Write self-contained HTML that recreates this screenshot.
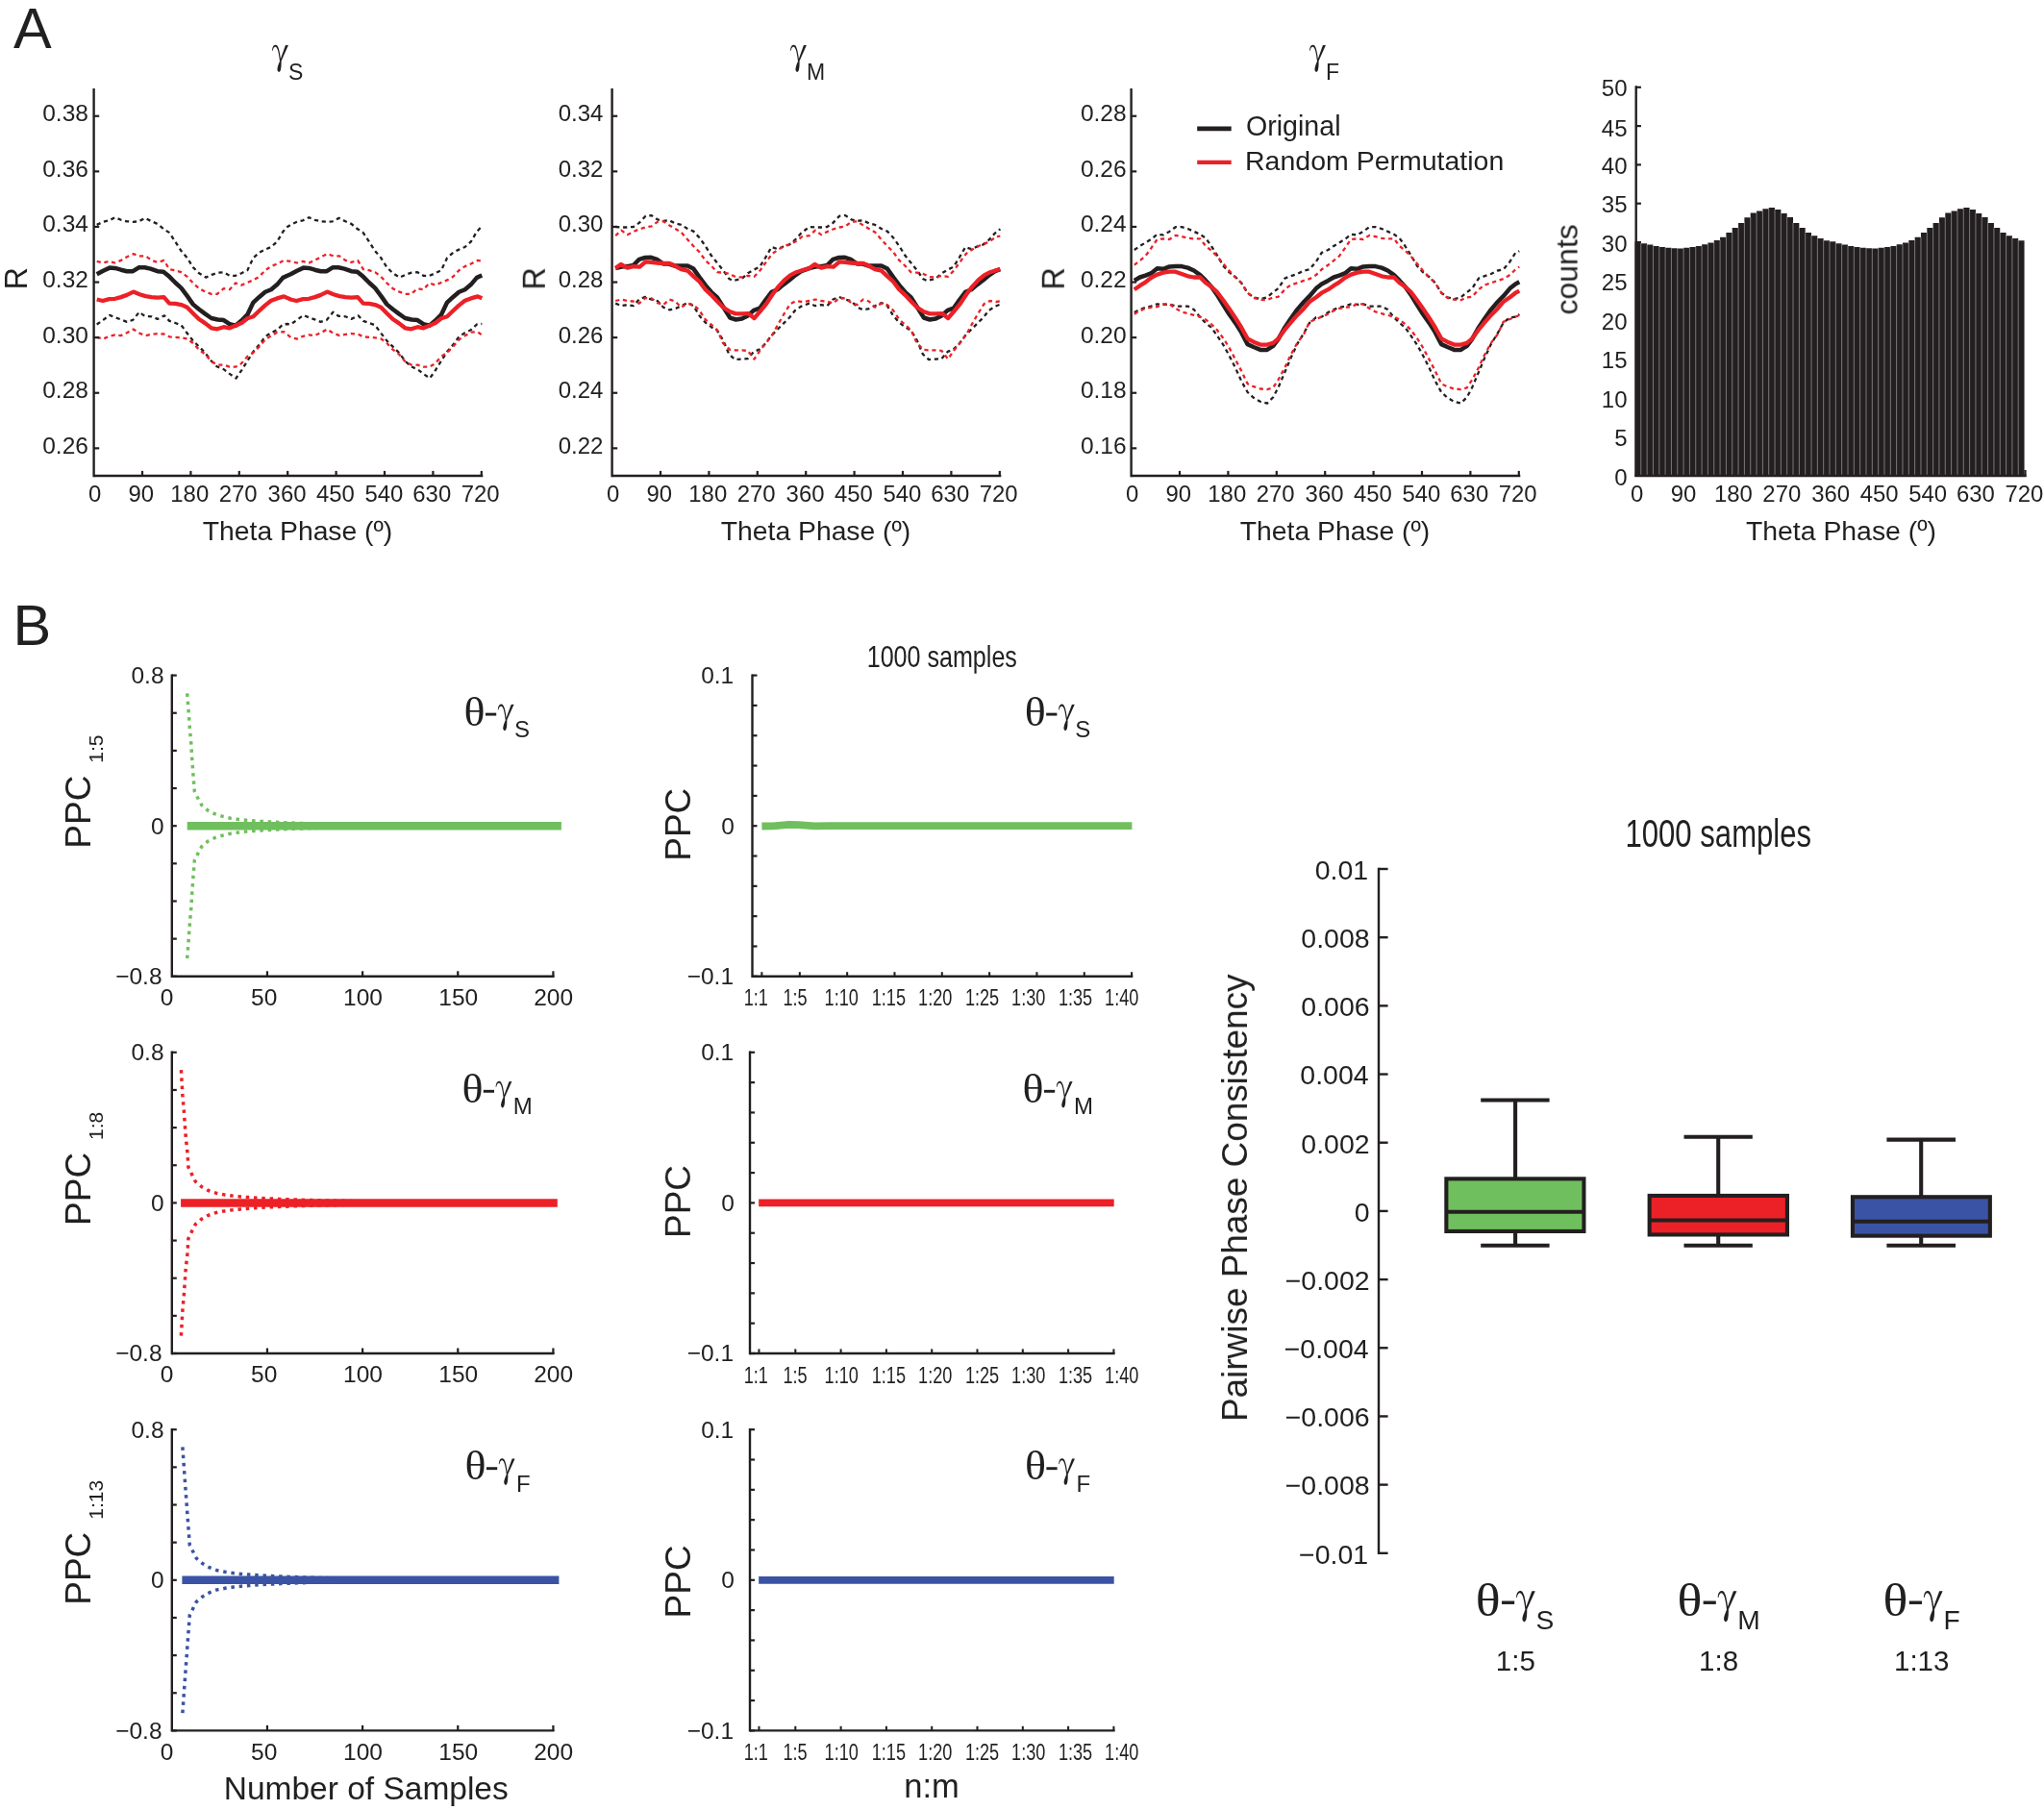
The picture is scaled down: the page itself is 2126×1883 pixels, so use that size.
<!DOCTYPE html>
<html><head><meta charset="utf-8"><title>Figure</title>
<style>
html,body{margin:0;padding:0;background:#fff;}
svg{display:block;}
text{fill:#231f20;white-space:pre;}
.ss{font-family:"Liberation Sans",sans-serif;}
.sr{font-family:"Liberation Serif",serif;}
</style></head>
<body>
<svg width="2126" height="1883" viewBox="0 0 2126 1883">
<rect width="2126" height="1883" fill="#ffffff"/>
<g stroke-linecap="butt">
<polyline points="100.7,233.9 107.3,230.8 113.5,229.3 119.7,226.2 125.8,228.8 132.0,230.3 138.2,230.8 144.3,230.3 151.0,226.9 157.7,230.3 163.8,232.9 170.0,238.0 176.2,242.1 182.3,251.4 188.5,261.1 194.7,268.3 200.8,278.1 207.0,284.2 214.2,288.6 220.3,285.8 226.5,283.7 232.7,283.2 238.8,286.8 245.0,286.8 251.2,284.2 257.3,281.2 263.5,268.3 269.7,262.7 275.8,259.6 282.0,257.0 288.2,251.4 294.3,241.1 298.9,236.0 302.3,233.9 308.9,230.8 315.1,229.3 321.3,226.2 327.4,228.8 333.6,230.3 339.8,230.8 345.9,230.3 352.6,226.9 359.3,230.3 365.4,232.9 371.6,238.0 377.8,242.1 383.9,251.4 390.1,261.1 396.3,268.3 402.4,278.1 408.6,284.2 415.8,288.6 421.9,285.8 428.1,283.7 434.3,283.2 440.4,286.8 446.6,286.8 452.8,284.2 458.9,281.2 465.1,268.3 471.3,262.7 477.4,259.6 483.6,257.0 489.8,251.4 495.9,241.1 500.5,236.0 501.3,235.5" fill="none" stroke="#231f20" stroke-width="2.3" stroke-linejoin="round" stroke-dasharray="4.2 3.7" />
<polyline points="100.7,337.5 107.3,332.9 114.0,327.9 119.7,330.3 125.8,332.4 132.0,334.9 138.2,332.9 144.8,324.7 150.5,328.8 157.7,329.3 163.8,331.9 171.0,328.3 176.2,333.9 182.3,336.0 188.5,338.2 193.6,345.2 200.8,354.5 207.0,360.6 213.2,366.8 219.8,375.5 225.5,381.2 232.7,384.2 238.8,388.9 245.5,393.5 251.2,385.3 257.3,375.5 263.5,365.8 269.7,358.6 275.8,350.3 282.0,346.2 288.2,343.2 294.3,337.5 298.9,337.0 302.3,337.5 308.9,332.9 315.6,327.9 321.3,330.3 327.4,332.4 333.6,334.9 339.8,332.9 346.4,324.7 352.1,328.8 359.3,329.3 365.4,331.9 372.6,328.3 377.8,333.9 383.9,336.0 390.1,338.2 395.2,345.2 402.4,354.5 408.6,360.6 414.8,366.8 421.4,375.5 427.1,381.2 434.3,384.2 440.4,388.9 447.1,393.5 452.8,385.3 458.9,375.5 465.1,365.8 471.3,358.6 477.4,350.3 483.6,346.2 489.8,343.2 495.9,337.5 500.5,337.0 501.3,337.1" fill="none" stroke="#231f20" stroke-width="2.3" stroke-linejoin="round" stroke-dasharray="4.2 3.7" />
<polyline points="100.7,271.9 107.3,273.5 113.5,271.9 119.7,273.5 125.8,270.9 132.0,267.3 138.7,264.2 145.3,266.3 151.5,266.3 157.7,270.9 163.8,272.9 170.5,270.9 176.2,280.1 182.3,281.2 188.5,283.2 194.7,287.8 200.8,294.5 207.0,300.2 213.2,303.3 219.8,305.8 226.0,305.8 232.7,300.2 238.8,301.2 245.0,294.5 251.2,296.6 257.3,294.0 263.5,291.4 269.7,287.8 275.8,281.2 282.0,277.1 288.2,274.5 295.3,270.9 302.3,271.9 308.9,273.5 315.1,271.9 321.3,273.5 327.4,270.9 333.6,267.3 340.3,264.2 346.9,266.3 353.1,266.3 359.3,270.9 365.4,272.9 372.1,270.9 377.8,280.1 383.9,281.2 390.1,283.2 396.3,287.8 402.4,294.5 408.6,300.2 414.8,303.3 421.4,305.8 427.6,305.8 434.3,300.2 440.4,301.2 446.6,294.5 452.8,296.6 458.9,294.0 465.1,291.4 471.3,287.8 477.4,281.2 483.6,277.1 489.8,274.5 496.9,270.9 501.3,271.5" fill="none" stroke="#ec2027" stroke-width="2.3" stroke-linejoin="round" stroke-dasharray="4.2 3.7" />
<polyline points="100.7,350.9 107.3,352.6 113.5,349.8 119.7,348.3 125.8,349.1 132.0,346.2 138.7,342.6 145.3,346.7 151.5,349.1 157.7,347.8 163.8,347.1 170.5,347.5 176.2,350.3 182.3,350.9 188.5,351.4 194.7,352.4 200.8,357.0 207.0,363.7 213.2,368.3 219.8,376.0 226.0,379.6 232.7,379.6 238.8,381.7 245.0,381.7 251.2,378.1 257.3,370.9 263.5,366.8 269.7,360.6 275.8,353.4 282.0,349.3 288.2,345.7 295.3,345.2 302.3,350.9 308.9,352.6 315.1,349.8 321.3,348.3 327.4,349.1 333.6,346.2 340.3,342.6 346.9,346.7 353.1,349.1 359.3,347.8 365.4,347.1 372.1,347.5 377.8,350.3 383.9,350.9 390.1,351.4 396.3,352.4 402.4,357.0 408.6,363.7 414.8,368.3 421.4,376.0 427.6,379.6 434.3,379.6 440.4,381.7 446.6,381.7 452.8,378.1 458.9,370.9 465.1,366.8 471.3,360.6 477.4,353.4 483.6,349.3 489.8,345.7 496.9,345.2 501.3,348.8" fill="none" stroke="#ec2027" stroke-width="2.3" stroke-linejoin="round" stroke-dasharray="4.2 3.7" />
<polyline points="100.7,285.3 107.3,281.7 114.0,278.6 119.7,278.9 125.8,280.7 132.0,282.2 138.2,282.2 144.3,278.3 150.5,278.3 156.6,279.6 163.8,282.2 170.0,282.7 176.2,287.8 182.3,294.0 188.5,299.7 194.7,307.9 200.8,316.6 207.0,321.8 213.2,326.4 219.8,331.0 226.5,332.5 232.7,333.1 238.8,337.2 245.0,338.7 251.2,333.6 257.3,327.4 263.5,314.6 269.7,308.9 275.8,303.8 282.0,301.2 288.2,296.1 294.3,288.9 298.9,286.8 302.3,285.3 308.9,281.7 315.6,278.6 321.3,278.9 327.4,280.7 333.6,282.2 339.8,282.2 345.9,278.3 352.1,278.3 358.2,279.6 365.4,282.2 371.6,282.7 377.8,287.8 383.9,294.0 390.1,299.7 396.3,307.9 402.4,316.6 408.6,321.8 414.8,326.4 421.4,331.0 428.1,332.5 434.3,333.1 440.4,337.2 446.6,338.7 452.8,333.6 458.9,327.4 465.1,314.6 471.3,308.9 477.4,303.8 483.6,301.2 489.8,296.1 495.9,288.9 500.5,286.8 501.3,286.5" fill="none" stroke="#231f20" stroke-width="4.5" stroke-linejoin="round"  />
<polyline points="100.7,311.5 106.8,313.0 113.5,311.2 119.7,310.8 125.8,309.1 132.0,306.9 138.7,303.6 145.3,306.3 151.5,308.1 157.7,309.1 163.8,309.7 170.5,309.1 176.2,315.6 182.3,315.9 188.5,317.1 194.7,319.7 200.8,325.9 207.0,332.0 213.2,336.1 219.8,341.3 226.0,342.3 232.7,340.2 238.8,341.3 245.0,338.7 251.2,336.1 257.3,331.3 263.5,329.3 269.7,323.3 275.8,317.6 282.0,312.8 288.2,310.4 295.3,308.4 302.3,311.5 308.4,313.0 315.1,311.2 321.3,310.8 327.4,309.1 333.6,306.9 340.3,303.6 346.9,306.3 353.1,308.1 359.3,309.1 365.4,309.7 372.1,309.1 377.8,315.6 383.9,315.9 390.1,317.1 396.3,319.7 402.4,325.9 408.6,332.0 414.8,336.1 421.4,341.3 427.6,342.3 434.3,340.2 440.4,341.3 446.6,338.7 452.8,336.1 458.9,331.3 465.1,329.3 471.3,323.3 477.4,317.6 483.6,312.8 489.8,310.4 496.9,308.4 501.3,310.3" fill="none" stroke="#ec2027" stroke-width="4.3" stroke-linejoin="round"  />
<line x1="97.60" y1="92.00" x2="97.60" y2="496.20" stroke="#231f20" stroke-width="2.4" />
<line x1="97.60" y1="495.00" x2="502.30" y2="495.00" stroke="#231f20" stroke-width="2.4" />
<line x1="148.00" y1="495.00" x2="148.00" y2="489.90" stroke="#231f20" stroke-width="2.208" />
<line x1="198.40" y1="495.00" x2="198.40" y2="489.90" stroke="#231f20" stroke-width="2.208" />
<line x1="248.80" y1="495.00" x2="248.80" y2="489.90" stroke="#231f20" stroke-width="2.208" />
<line x1="299.20" y1="495.00" x2="299.20" y2="489.90" stroke="#231f20" stroke-width="2.208" />
<line x1="349.60" y1="495.00" x2="349.60" y2="489.90" stroke="#231f20" stroke-width="2.208" />
<line x1="400.00" y1="495.00" x2="400.00" y2="489.90" stroke="#231f20" stroke-width="2.208" />
<line x1="450.40" y1="495.00" x2="450.40" y2="489.90" stroke="#231f20" stroke-width="2.208" />
<line x1="500.80" y1="495.00" x2="500.80" y2="489.90" stroke="#231f20" stroke-width="2.208" />
<line x1="97.60" y1="120.75" x2="103.20" y2="120.75" stroke="#231f20" stroke-width="2.208" />
<line x1="97.60" y1="178.35" x2="103.20" y2="178.35" stroke="#231f20" stroke-width="2.208" />
<line x1="97.60" y1="235.95" x2="103.20" y2="235.95" stroke="#231f20" stroke-width="2.208" />
<line x1="97.60" y1="293.55" x2="103.20" y2="293.55" stroke="#231f20" stroke-width="2.208" />
<line x1="97.60" y1="351.15" x2="103.20" y2="351.15" stroke="#231f20" stroke-width="2.208" />
<line x1="97.60" y1="408.75" x2="103.20" y2="408.75" stroke="#231f20" stroke-width="2.208" />
<line x1="97.60" y1="466.35" x2="103.20" y2="466.35" stroke="#231f20" stroke-width="2.208" />
<path d="M282.98,52.71 C283.08,52.16 283.24,50.33 283.55,49.44 C283.85,48.54 284.34,47.80 284.84,47.35 C285.33,46.89 285.90,46.66 286.50,46.70 C287.10,46.74 287.86,46.88 288.44,47.60 C289.02,48.32 289.54,49.58 289.99,51.01 C290.44,52.45 290.84,54.53 291.14,56.23 C291.45,57.94 291.73,60.41 291.84,61.25 L296.94,47.09 L299.90,46.95 L292.56,63.54 C292.56,63.84 292.61,64.41 292.59,65.37 C292.57,66.33 292.57,68.02 292.44,69.29 C292.30,70.55 292.11,72.03 291.79,72.95 C291.47,73.88 290.93,74.60 290.50,74.82 C290.07,75.03 289.55,74.65 289.21,74.25 C288.86,73.85 288.48,73.25 288.44,72.42 C288.40,71.59 288.65,70.42 288.95,69.29 C289.25,68.16 289.90,66.54 290.24,65.62 C290.59,64.71 290.88,64.09 291.01,63.79 C290.92,63.18 290.71,61.54 290.50,60.15 C290.29,58.76 290.03,56.88 289.73,55.44 C289.43,54.00 289.09,52.54 288.70,51.52 C288.31,50.50 287.84,49.78 287.40,49.32 C286.97,48.87 286.54,48.74 286.11,48.79 C285.69,48.83 285.20,49.12 284.84,49.58 C284.48,50.03 284.13,50.98 283.94,51.52 C283.74,52.07 283.71,52.63 283.66,52.85 Z" fill="#231f20"/>
<polyline points="640.2,236.0 646.3,236.5 652.5,236.5 658.7,236.0 664.8,231.9 671.5,224.7 677.7,224.1 683.8,228.3 690.0,229.8 696.2,229.3 702.3,232.4 708.5,233.9 715.2,238.0 721.3,240.6 727.5,247.3 733.7,256.0 739.8,265.8 746.0,273.5 752.2,281.2 758.3,289.9 762.4,292.0 771.7,289.9 777.8,284.2 784.0,280.7 790.2,277.6 796.3,267.8 802.5,257.0 808.7,259.1 814.8,256.5 821.0,254.5 827.2,249.3 833.3,242.6 838.5,238.5 841.8,236.0 847.9,236.5 854.1,236.5 860.3,236.0 866.4,231.9 873.1,224.7 879.3,224.1 885.4,228.3 891.6,229.8 897.8,229.3 903.9,232.4 910.1,233.9 916.8,238.0 922.9,240.6 929.1,247.3 935.3,256.0 941.4,265.8 947.6,273.5 953.8,281.2 959.9,289.9 964.0,292.0 973.3,289.9 979.4,284.2 985.6,280.7 991.8,277.6 997.9,267.8 1004.1,257.0 1010.3,259.1 1016.4,256.5 1022.6,254.5 1028.8,249.3 1034.9,242.6 1040.1,238.5 1040.3,238.3" fill="none" stroke="#231f20" stroke-width="2.3" stroke-linejoin="round" stroke-dasharray="4.2 3.7" />
<polyline points="640.2,315.6 646.3,318.2 652.5,317.1 658.7,318.2 664.8,311.5 671.0,308.9 677.2,311.5 683.8,313.0 690.0,319.7 696.2,322.3 702.3,321.2 708.5,318.2 715.2,315.1 721.3,318.2 727.5,328.4 733.7,335.6 739.8,340.2 746.0,343.8 752.2,354.1 758.3,368.5 764.5,374.1 771.7,373.6 777.8,373.1 784.0,365.9 790.2,363.4 796.3,357.2 802.5,349.0 808.7,342.8 814.8,336.6 821.0,330.5 827.2,322.8 833.3,318.7 841.8,315.6 847.9,318.2 854.1,317.1 860.3,318.2 866.4,311.5 872.6,308.9 878.8,311.5 885.4,313.0 891.6,319.7 897.8,322.3 903.9,321.2 910.1,318.2 916.8,315.1 922.9,318.2 929.1,328.4 935.3,335.6 941.4,340.2 947.6,343.8 953.8,354.1 959.9,368.5 966.1,374.1 973.3,373.6 979.4,373.1 985.6,365.9 991.8,363.4 997.9,357.2 1004.1,349.0 1010.3,342.8 1016.4,336.6 1022.6,330.5 1028.8,322.8 1034.9,318.7 1040.3,316.7" fill="none" stroke="#231f20" stroke-width="2.3" stroke-linejoin="round" stroke-dasharray="4.2 3.7" />
<polyline points="640.2,245.2 646.3,239.6 652.5,244.2 658.7,241.1 664.8,238.5 671.5,236.5 677.7,235.4 683.8,230.8 690.0,230.3 696.2,234.4 702.3,238.0 708.5,241.6 715.2,249.3 721.3,256.0 727.5,262.2 733.7,270.9 739.8,276.5 746.0,283.2 752.2,283.7 758.3,284.8 765.5,288.2 771.7,288.4 777.8,286.8 784.5,287.8 790.7,281.2 797.4,271.9 803.5,263.7 809.7,259.6 815.9,256.0 822.0,253.9 828.2,250.9 834.3,246.2 841.8,245.2 847.9,239.6 854.1,244.2 860.3,241.1 866.4,238.5 873.1,236.5 879.3,235.4 885.4,230.8 891.6,230.3 897.8,234.4 903.9,238.0 910.1,241.6 916.8,249.3 922.9,256.0 929.1,262.2 935.3,270.9 941.4,276.5 947.6,283.2 953.8,283.7 959.9,284.8 967.1,288.2 973.3,288.4 979.4,286.8 986.1,287.8 992.3,281.2 999.0,271.9 1005.1,263.7 1011.3,259.6 1017.5,256.0 1023.6,253.9 1029.8,250.9 1035.9,246.2 1040.3,245.6" fill="none" stroke="#ec2027" stroke-width="2.3" stroke-linejoin="round" stroke-dasharray="4.2 3.7" />
<polyline points="640.2,313.0 646.3,311.5 652.5,313.0 658.7,313.5 664.8,315.6 671.5,309.9 677.7,310.4 683.8,315.1 690.0,317.1 696.2,311.5 702.3,313.5 708.5,319.7 715.2,315.6 721.3,317.1 727.5,322.8 733.7,332.5 739.8,337.7 746.0,343.3 752.2,357.2 759.3,363.9 765.5,364.4 771.7,364.4 777.8,364.9 784.5,373.6 790.7,364.4 797.4,356.2 803.5,348.0 809.7,336.6 815.9,325.9 822.0,316.1 828.2,313.0 834.3,314.0 841.8,313.0 847.9,311.5 854.1,313.0 860.3,313.5 866.4,315.6 873.1,309.9 879.3,310.4 885.4,315.1 891.6,317.1 897.8,311.5 903.9,313.5 910.1,319.7 916.8,315.6 922.9,317.1 929.1,322.8 935.3,332.5 941.4,337.7 947.6,343.3 953.8,357.2 960.9,363.9 967.1,364.4 973.3,364.4 979.4,364.9 986.1,373.6 992.3,364.4 999.0,356.2 1005.1,348.0 1011.3,336.6 1017.5,325.9 1023.6,316.1 1029.8,313.0 1035.9,314.0 1040.3,313.4" fill="none" stroke="#ec2027" stroke-width="2.3" stroke-linejoin="round" stroke-dasharray="4.2 3.7" />
<polyline points="640.2,279.1 646.3,277.6 652.5,277.1 658.7,276.0 664.8,269.9 671.0,268.0 677.2,267.8 683.3,269.9 690.0,274.5 695.6,274.5 701.8,276.5 708.0,276.5 715.2,276.5 721.3,279.6 727.5,288.4 733.7,296.6 739.8,303.8 746.0,309.4 752.2,319.2 759.3,330.5 765.5,332.5 771.7,331.5 777.8,328.4 784.0,322.8 790.2,320.7 796.3,312.0 802.5,303.8 808.7,301.2 814.8,296.1 821.0,291.4 827.2,286.3 833.3,282.2 841.8,279.1 847.9,277.6 854.1,277.1 860.3,276.0 866.4,269.9 872.6,268.0 878.8,267.8 884.9,269.9 891.6,274.5 897.2,274.5 903.4,276.5 909.6,276.5 916.8,276.5 922.9,279.6 929.1,288.4 935.3,296.6 941.4,303.8 947.6,309.4 953.8,319.2 960.9,330.5 967.1,332.5 973.3,331.5 979.4,328.4 985.6,322.8 991.8,320.7 997.9,312.0 1004.1,303.8 1010.3,301.2 1016.4,296.1 1022.6,291.4 1028.8,286.3 1034.9,282.2 1040.3,280.2" fill="none" stroke="#231f20" stroke-width="4.5" stroke-linejoin="round"  />
<polyline points="640.2,279.1 645.8,275.0 652.5,278.6 658.7,277.1 665.3,277.6 671.5,272.4 677.7,272.9 683.3,273.5 690.0,274.0 696.2,274.0 701.8,276.5 708.5,280.1 715.2,281.7 721.3,287.3 727.5,293.0 733.7,301.2 739.8,306.9 746.0,313.5 752.2,319.7 759.3,324.3 765.5,326.4 771.7,326.4 778.4,326.2 784.5,331.0 790.7,323.8 797.4,315.6 803.5,306.3 809.7,298.1 815.9,291.4 822.0,286.3 828.2,283.2 834.3,281.2 841.8,279.1 847.4,275.0 854.1,278.6 860.3,277.1 866.9,277.6 873.1,272.4 879.3,272.9 884.9,273.5 891.6,274.0 897.8,274.0 903.4,276.5 910.1,280.1 916.8,281.7 922.9,287.3 929.1,293.0 935.3,301.2 941.4,306.9 947.6,313.5 953.8,319.7 960.9,324.3 967.1,326.4 973.3,326.4 980.0,326.2 986.1,331.0 992.3,323.8 999.0,315.6 1005.1,306.3 1011.3,298.1 1017.5,291.4 1023.6,286.3 1029.8,283.2 1035.9,281.2 1040.3,280.0" fill="none" stroke="#ec2027" stroke-width="4.3" stroke-linejoin="round"  />
<line x1="636.60" y1="92.00" x2="636.60" y2="496.20" stroke="#231f20" stroke-width="2.4" />
<line x1="636.60" y1="495.00" x2="1041.30" y2="495.00" stroke="#231f20" stroke-width="2.4" />
<line x1="687.00" y1="495.00" x2="687.00" y2="489.90" stroke="#231f20" stroke-width="2.208" />
<line x1="737.40" y1="495.00" x2="737.40" y2="489.90" stroke="#231f20" stroke-width="2.208" />
<line x1="787.80" y1="495.00" x2="787.80" y2="489.90" stroke="#231f20" stroke-width="2.208" />
<line x1="838.20" y1="495.00" x2="838.20" y2="489.90" stroke="#231f20" stroke-width="2.208" />
<line x1="888.60" y1="495.00" x2="888.60" y2="489.90" stroke="#231f20" stroke-width="2.208" />
<line x1="939.00" y1="495.00" x2="939.00" y2="489.90" stroke="#231f20" stroke-width="2.208" />
<line x1="989.40" y1="495.00" x2="989.40" y2="489.90" stroke="#231f20" stroke-width="2.208" />
<line x1="1039.80" y1="495.00" x2="1039.80" y2="489.90" stroke="#231f20" stroke-width="2.208" />
<line x1="636.60" y1="120.75" x2="642.20" y2="120.75" stroke="#231f20" stroke-width="2.208" />
<line x1="636.60" y1="178.35" x2="642.20" y2="178.35" stroke="#231f20" stroke-width="2.208" />
<line x1="636.60" y1="235.95" x2="642.20" y2="235.95" stroke="#231f20" stroke-width="2.208" />
<line x1="636.60" y1="293.55" x2="642.20" y2="293.55" stroke="#231f20" stroke-width="2.208" />
<line x1="636.60" y1="351.15" x2="642.20" y2="351.15" stroke="#231f20" stroke-width="2.208" />
<line x1="636.60" y1="408.75" x2="642.20" y2="408.75" stroke="#231f20" stroke-width="2.208" />
<line x1="636.60" y1="466.35" x2="642.20" y2="466.35" stroke="#231f20" stroke-width="2.208" />
<path d="M821.99,52.71 C822.08,52.16 822.24,50.33 822.55,49.44 C822.85,48.54 823.35,47.80 823.84,47.35 C824.33,46.89 824.90,46.66 825.50,46.70 C826.10,46.74 826.86,46.88 827.44,47.60 C828.02,48.32 828.54,49.58 828.99,51.01 C829.44,52.45 829.84,54.53 830.15,56.23 C830.45,57.94 830.73,60.41 830.84,61.25 L835.94,47.09 L838.90,46.95 L831.56,63.54 C831.56,63.84 831.61,64.41 831.59,65.37 C831.57,66.33 831.57,68.02 831.44,69.29 C831.30,70.55 831.11,72.03 830.79,72.95 C830.47,73.88 829.93,74.60 829.50,74.82 C829.07,75.03 828.55,74.65 828.21,74.25 C827.86,73.85 827.48,73.25 827.44,72.42 C827.40,71.59 827.65,70.42 827.95,69.29 C828.25,68.16 828.90,66.54 829.24,65.62 C829.59,64.71 829.88,64.09 830.01,63.79 C829.92,63.18 829.71,61.54 829.50,60.15 C829.29,58.76 829.03,56.88 828.73,55.44 C828.43,54.00 828.09,52.54 827.70,51.52 C827.31,50.50 826.84,49.78 826.41,49.32 C825.97,48.87 825.54,48.74 825.11,48.79 C824.69,48.83 824.20,49.12 823.84,49.58 C823.48,50.03 823.13,50.98 822.94,51.52 C822.74,52.07 822.71,52.63 822.67,52.85 Z" fill="#231f20"/>
<polyline points="1179.8,260.0 1185.6,256.0 1191.4,252.5 1197.2,249.0 1203.6,243.8 1210.0,244.4 1216.3,240.9 1222.7,236.2 1229.1,236.2 1235.5,238.0 1241.9,240.9 1248.3,243.8 1254.1,247.8 1259.9,256.0 1265.7,265.2 1272.6,276.9 1278.4,283.2 1285.4,288.5 1291.2,294.3 1297.6,304.7 1303.9,309.3 1310.9,311.1 1317.9,309.3 1324.2,304.1 1329.5,300.1 1336.4,289.6 1342.2,287.3 1349.2,285.0 1356.2,281.5 1362.0,280.3 1368.9,272.2 1374.7,262.9 1381.4,260.0 1387.2,256.0 1393.0,252.5 1398.8,249.0 1405.2,243.8 1411.6,244.4 1417.9,240.9 1424.3,236.2 1430.7,236.2 1437.1,238.0 1443.5,240.9 1449.9,243.8 1455.7,247.8 1461.5,256.0 1467.3,265.2 1474.2,276.9 1480.0,283.2 1487.0,288.5 1492.8,294.3 1499.2,304.7 1505.5,309.3 1512.5,311.1 1519.5,309.3 1525.8,304.1 1531.1,300.1 1538.0,289.6 1543.8,287.3 1550.8,285.0 1557.8,281.5 1563.6,280.3 1570.5,272.2 1576.3,262.9 1580.3,261.2" fill="none" stroke="#231f20" stroke-width="2.3" stroke-linejoin="round" stroke-dasharray="4.2 3.7" />
<polyline points="1179.8,325.0 1185.6,322.1 1191.4,319.8 1197.2,318.6 1203.6,316.3 1210.0,316.9 1216.3,316.3 1222.7,318.6 1229.1,318.6 1235.5,318.6 1241.9,322.1 1248.3,330.2 1254.1,336.0 1259.9,340.7 1265.7,348.8 1272.6,359.2 1278.4,369.7 1285.4,383.6 1291.2,396.4 1297.6,408.0 1303.9,413.8 1310.9,417.8 1317.9,419.6 1324.2,413.2 1329.5,403.3 1336.4,387.1 1342.2,373.2 1349.2,358.1 1356.2,346.5 1362.0,336.0 1368.9,330.2 1374.7,329.6 1381.4,325.0 1387.2,322.1 1393.0,319.8 1398.8,318.6 1405.2,316.3 1411.6,316.9 1417.9,316.3 1424.3,318.6 1430.7,318.6 1437.1,318.6 1443.5,322.1 1449.9,330.2 1455.7,336.0 1461.5,340.7 1467.3,348.8 1474.2,359.2 1480.0,369.7 1487.0,383.6 1492.8,396.4 1499.2,408.0 1505.5,413.8 1512.5,417.8 1519.5,419.6 1525.8,413.2 1531.1,403.3 1538.0,387.1 1543.8,373.2 1550.8,358.1 1557.8,346.5 1563.6,336.0 1570.5,330.2 1576.3,329.6 1580.3,326.9" fill="none" stroke="#231f20" stroke-width="2.3" stroke-linejoin="round" stroke-dasharray="4.2 3.7" />
<polyline points="1179.8,275.7 1185.6,271.1 1191.4,266.4 1197.2,258.3 1203.6,249.0 1210.0,248.4 1216.3,249.0 1222.7,244.9 1229.1,246.1 1235.5,247.8 1241.9,248.4 1248.3,248.4 1254.1,256.0 1259.9,260.6 1265.7,266.4 1272.6,274.5 1278.4,281.5 1285.4,289.0 1291.2,294.3 1297.6,304.7 1303.9,309.9 1310.9,311.7 1317.9,312.2 1324.2,309.3 1329.5,308.8 1336.4,301.2 1342.2,296.6 1349.2,294.3 1356.2,291.9 1362.0,290.2 1368.9,286.1 1374.7,280.3 1381.4,275.7 1387.2,271.1 1393.0,266.4 1398.8,258.3 1405.2,249.0 1411.6,248.4 1417.9,249.0 1424.3,244.9 1430.7,246.1 1437.1,247.8 1443.5,248.4 1449.9,248.4 1455.7,256.0 1461.5,260.6 1467.3,266.4 1474.2,274.5 1480.0,281.5 1487.0,289.0 1492.8,294.3 1499.2,304.7 1505.5,309.9 1512.5,311.7 1519.5,312.2 1525.8,309.3 1531.1,308.8 1538.0,301.2 1543.8,296.6 1550.8,294.3 1557.8,291.9 1563.6,290.2 1570.5,286.1 1576.3,280.3 1580.3,277.6" fill="none" stroke="#ec2027" stroke-width="2.3" stroke-linejoin="round" stroke-dasharray="4.2 3.7" />
<polyline points="1179.8,326.7 1185.6,323.3 1191.4,320.9 1197.2,319.8 1203.6,319.2 1210.0,316.3 1216.3,316.3 1222.7,320.9 1229.1,324.4 1235.5,326.2 1241.9,327.9 1248.3,329.6 1254.1,332.5 1259.9,337.2 1265.7,343.0 1272.6,352.3 1278.4,361.5 1285.4,374.9 1291.2,385.9 1297.6,399.3 1303.9,402.2 1310.9,404.5 1317.9,405.1 1324.2,403.3 1329.5,395.2 1336.4,382.4 1342.2,369.7 1349.2,356.9 1356.2,347.6 1362.0,334.9 1368.9,332.0 1374.7,329.6 1381.4,326.7 1387.2,323.3 1393.0,320.9 1398.8,319.8 1405.2,319.2 1411.6,316.3 1417.9,316.3 1424.3,320.9 1430.7,324.4 1437.1,326.2 1443.5,327.9 1449.9,329.6 1455.7,332.5 1461.5,337.2 1467.3,343.0 1474.2,352.3 1480.0,361.5 1487.0,374.9 1492.8,385.9 1499.2,399.3 1505.5,402.2 1512.5,404.5 1519.5,405.1 1525.8,403.3 1531.1,395.2 1538.0,382.4 1543.8,369.7 1550.8,356.9 1557.8,347.6 1563.6,334.9 1570.5,332.0 1576.3,329.6 1580.3,327.9" fill="none" stroke="#ec2027" stroke-width="2.3" stroke-linejoin="round" stroke-dasharray="4.2 3.7" />
<polyline points="1179.8,291.9 1185.6,288.5 1191.4,286.7 1197.2,284.4 1203.6,279.2 1210.0,279.8 1216.3,277.4 1222.7,277.1 1229.1,277.1 1235.5,278.6 1241.9,281.5 1248.3,286.1 1254.1,291.9 1259.9,298.3 1265.7,306.4 1272.6,317.5 1278.4,326.7 1285.4,336.6 1291.2,345.9 1297.6,358.1 1303.9,361.0 1310.9,363.9 1317.9,363.9 1324.2,359.8 1329.5,352.8 1336.4,340.7 1342.2,332.0 1349.2,322.1 1356.2,314.0 1362.0,308.2 1368.9,300.1 1374.7,295.4 1381.4,291.9 1387.2,288.5 1393.0,286.7 1398.8,284.4 1405.2,279.2 1411.6,279.8 1417.9,277.4 1424.3,277.1 1430.7,277.1 1437.1,278.6 1443.5,281.5 1449.9,286.1 1455.7,291.9 1461.5,298.3 1467.3,306.4 1474.2,317.5 1480.0,326.7 1487.0,336.6 1492.8,345.9 1499.2,358.1 1505.5,361.0 1512.5,363.9 1519.5,363.9 1525.8,359.8 1531.1,352.8 1538.0,340.7 1543.8,332.0 1550.8,322.1 1557.8,314.0 1563.6,308.2 1570.5,300.1 1576.3,295.4 1580.3,293.3" fill="none" stroke="#231f20" stroke-width="4.5" stroke-linejoin="round"  />
<polyline points="1179.8,301.2 1185.6,297.2 1191.4,293.7 1197.2,289.0 1203.6,285.6 1210.0,283.6 1216.3,282.7 1222.7,282.7 1229.1,285.0 1235.5,287.3 1241.9,288.5 1248.3,288.5 1254.1,294.3 1259.9,298.3 1265.7,303.5 1272.6,312.8 1278.4,320.9 1285.4,331.4 1291.2,340.7 1297.6,352.3 1303.9,355.7 1310.9,358.6 1317.9,358.6 1324.2,356.9 1329.5,352.3 1336.4,343.0 1342.2,336.0 1349.2,327.9 1356.2,320.9 1362.0,314.0 1368.9,309.3 1374.7,304.7 1381.4,301.2 1387.2,297.2 1393.0,293.7 1398.8,289.0 1405.2,285.6 1411.6,283.6 1417.9,282.7 1424.3,282.7 1430.7,285.0 1437.1,287.3 1443.5,288.5 1449.9,288.5 1455.7,294.3 1461.5,298.3 1467.3,303.5 1474.2,312.8 1480.0,320.9 1487.0,331.4 1492.8,340.7 1499.2,352.3 1505.5,355.7 1512.5,358.6 1519.5,358.6 1525.8,356.9 1531.1,352.3 1538.0,343.0 1543.8,336.0 1550.8,327.9 1557.8,320.9 1563.6,314.0 1570.5,309.3 1576.3,304.7 1580.3,302.6" fill="none" stroke="#ec2027" stroke-width="4.3" stroke-linejoin="round"  />
<line x1="1176.60" y1="92.00" x2="1176.60" y2="496.20" stroke="#231f20" stroke-width="2.4" />
<line x1="1176.60" y1="495.00" x2="1581.30" y2="495.00" stroke="#231f20" stroke-width="2.4" />
<line x1="1227.00" y1="495.00" x2="1227.00" y2="489.90" stroke="#231f20" stroke-width="2.208" />
<line x1="1277.40" y1="495.00" x2="1277.40" y2="489.90" stroke="#231f20" stroke-width="2.208" />
<line x1="1327.80" y1="495.00" x2="1327.80" y2="489.90" stroke="#231f20" stroke-width="2.208" />
<line x1="1378.20" y1="495.00" x2="1378.20" y2="489.90" stroke="#231f20" stroke-width="2.208" />
<line x1="1428.60" y1="495.00" x2="1428.60" y2="489.90" stroke="#231f20" stroke-width="2.208" />
<line x1="1479.00" y1="495.00" x2="1479.00" y2="489.90" stroke="#231f20" stroke-width="2.208" />
<line x1="1529.40" y1="495.00" x2="1529.40" y2="489.90" stroke="#231f20" stroke-width="2.208" />
<line x1="1579.80" y1="495.00" x2="1579.80" y2="489.90" stroke="#231f20" stroke-width="2.208" />
<line x1="1176.60" y1="120.75" x2="1182.20" y2="120.75" stroke="#231f20" stroke-width="2.208" />
<line x1="1176.60" y1="178.35" x2="1182.20" y2="178.35" stroke="#231f20" stroke-width="2.208" />
<line x1="1176.60" y1="235.95" x2="1182.20" y2="235.95" stroke="#231f20" stroke-width="2.208" />
<line x1="1176.60" y1="293.55" x2="1182.20" y2="293.55" stroke="#231f20" stroke-width="2.208" />
<line x1="1176.60" y1="351.15" x2="1182.20" y2="351.15" stroke="#231f20" stroke-width="2.208" />
<line x1="1176.60" y1="408.75" x2="1182.20" y2="408.75" stroke="#231f20" stroke-width="2.208" />
<line x1="1176.60" y1="466.35" x2="1182.20" y2="466.35" stroke="#231f20" stroke-width="2.208" />
<path d="M1361.98,52.71 C1362.08,52.16 1362.24,50.33 1362.55,49.44 C1362.85,48.54 1363.35,47.80 1363.84,47.35 C1364.33,46.89 1364.90,46.66 1365.50,46.70 C1366.10,46.74 1366.86,46.88 1367.44,47.60 C1368.02,48.32 1368.54,49.58 1368.99,51.01 C1369.44,52.45 1369.84,54.53 1370.14,56.23 C1370.45,57.94 1370.73,60.41 1370.84,61.25 L1375.94,47.09 L1378.90,46.95 L1371.56,63.54 C1371.56,63.84 1371.61,64.41 1371.59,65.37 C1371.57,66.33 1371.57,68.02 1371.44,69.29 C1371.30,70.55 1371.11,72.03 1370.79,72.95 C1370.47,73.88 1369.93,74.60 1369.50,74.82 C1369.07,75.03 1368.55,74.65 1368.21,74.25 C1367.86,73.85 1367.48,73.25 1367.44,72.42 C1367.40,71.59 1367.65,70.42 1367.95,69.29 C1368.25,68.16 1368.90,66.54 1369.24,65.62 C1369.59,64.71 1369.88,64.09 1370.01,63.79 C1369.92,63.18 1369.71,61.54 1369.50,60.15 C1369.29,58.76 1369.03,56.88 1368.73,55.44 C1368.43,54.00 1368.09,52.54 1367.70,51.52 C1367.31,50.50 1366.84,49.78 1366.40,49.32 C1365.97,48.87 1365.54,48.74 1365.11,48.79 C1364.69,48.83 1364.20,49.12 1363.84,49.58 C1363.48,50.03 1363.13,50.98 1362.94,51.52 C1362.74,52.07 1362.71,52.63 1362.66,52.85 Z" fill="#231f20"/>
<line x1="1245.20" y1="133.90" x2="1280.70" y2="133.90" stroke="#231f20" stroke-width="4.6" />
<line x1="1245.20" y1="168.90" x2="1280.70" y2="168.90" stroke="#ec2027" stroke-width="4.4" />
<line x1="1701.70" y1="89.30" x2="1701.70" y2="496.10" stroke="#231f20" stroke-width="2.4" />
<line x1="1701.70" y1="90.80" x2="1706.90" y2="90.80" stroke="#231f20" stroke-width="2.208" />
<line x1="1701.70" y1="131.10" x2="1706.90" y2="131.10" stroke="#231f20" stroke-width="2.208" />
<line x1="1701.70" y1="171.40" x2="1706.90" y2="171.40" stroke="#231f20" stroke-width="2.208" />
<line x1="1701.70" y1="211.70" x2="1706.90" y2="211.70" stroke="#231f20" stroke-width="2.208" />
<line x1="1701.70" y1="252.00" x2="1706.90" y2="252.00" stroke="#231f20" stroke-width="2.208" />
<line x1="1701.70" y1="292.30" x2="1706.90" y2="292.30" stroke="#231f20" stroke-width="2.208" />
<line x1="1701.70" y1="332.60" x2="1706.90" y2="332.60" stroke="#231f20" stroke-width="2.208" />
<line x1="1701.70" y1="372.90" x2="1706.90" y2="372.90" stroke="#231f20" stroke-width="2.208" />
<line x1="1701.70" y1="413.20" x2="1706.90" y2="413.20" stroke="#231f20" stroke-width="2.208" />
<line x1="1701.70" y1="453.50" x2="1706.90" y2="453.50" stroke="#231f20" stroke-width="2.208" />
<line x1="1701.70" y1="493.80" x2="1706.90" y2="493.80" stroke="#231f20" stroke-width="2.208" />
<path d="M1700.45,496.1 L1700.45,251.3 L1706.78,251.3 L1706.78,253.2 L1713.11,253.2 L1713.11,254.5 L1719.44,254.5 L1719.44,255.9 L1725.77,255.9 L1725.77,256.9 L1732.10,256.9 L1732.10,257.7 L1738.43,257.7 L1738.43,258.2 L1744.76,258.2 L1744.76,258.5 L1751.09,258.5 L1751.09,257.7 L1757.42,257.7 L1757.42,257.0 L1763.75,257.0 L1763.75,256.1 L1770.08,256.1 L1770.08,254.3 L1776.41,254.3 L1776.41,252.4 L1782.74,252.4 L1782.74,250.0 L1789.07,250.0 L1789.07,246.8 L1795.40,246.8 L1795.40,242.1 L1801.73,242.1 L1801.73,237.1 L1808.06,237.1 L1808.06,231.9 L1814.39,231.9 L1814.39,226.3 L1820.72,226.3 L1820.72,221.4 L1827.05,221.4 L1827.05,219.5 L1833.38,219.5 L1833.38,217.2 L1839.71,217.2 L1839.71,216.1 L1846.04,216.1 L1846.04,218.1 L1852.37,218.1 L1852.37,222.0 L1858.70,222.0 L1858.70,226.0 L1865.03,226.0 L1865.03,232.1 L1871.36,232.1 L1871.36,237.1 L1877.69,237.1 L1877.69,242.1 L1884.02,242.1 L1884.02,245.2 L1890.35,245.2 L1890.35,248.1 L1896.68,248.1 L1896.68,250.2 L1903.01,250.2 L1903.01,251.3 L1909.34,251.3 L1909.34,253.2 L1915.67,253.2 L1915.67,254.5 L1922.00,254.5 L1922.00,255.9 L1928.33,255.9 L1928.33,256.9 L1934.66,256.9 L1934.66,257.7 L1940.99,257.7 L1940.99,258.2 L1947.32,258.2 L1947.32,258.5 L1953.65,258.5 L1953.65,257.7 L1959.98,257.7 L1959.98,257.0 L1966.31,257.0 L1966.31,256.1 L1972.64,256.1 L1972.64,254.3 L1978.97,254.3 L1978.97,252.4 L1985.30,252.4 L1985.30,250.0 L1991.63,250.0 L1991.63,246.8 L1997.96,246.8 L1997.96,242.1 L2004.29,242.1 L2004.29,237.1 L2010.62,237.1 L2010.62,231.9 L2016.95,231.9 L2016.95,226.3 L2023.28,226.3 L2023.28,221.4 L2029.61,221.4 L2029.61,219.5 L2035.94,219.5 L2035.94,217.2 L2042.27,217.2 L2042.27,216.1 L2048.60,216.1 L2048.60,218.1 L2054.93,218.1 L2054.93,222.0 L2061.26,222.0 L2061.26,226.0 L2067.59,226.0 L2067.59,232.1 L2073.92,232.1 L2073.92,237.1 L2080.25,237.1 L2080.25,242.1 L2086.58,242.1 L2086.58,245.2 L2092.91,245.2 L2092.91,248.1 L2099.24,248.1 L2099.24,250.2 L2105.57,250.2 L2105.57,496.1 Z" fill="#231f20"/>
<line x1="1706.78" y1="252.8" x2="1706.78" y2="494.5" stroke="#ffffff" stroke-opacity="0.5" stroke-width="0.8"/>
<line x1="1713.11" y1="254.1" x2="1713.11" y2="494.5" stroke="#ffffff" stroke-opacity="0.5" stroke-width="0.8"/>
<line x1="1719.44" y1="255.5" x2="1719.44" y2="494.5" stroke="#ffffff" stroke-opacity="0.5" stroke-width="0.8"/>
<line x1="1725.77" y1="256.5" x2="1725.77" y2="494.5" stroke="#ffffff" stroke-opacity="0.5" stroke-width="0.8"/>
<line x1="1732.10" y1="257.3" x2="1732.10" y2="494.5" stroke="#ffffff" stroke-opacity="0.5" stroke-width="0.8"/>
<line x1="1738.43" y1="257.8" x2="1738.43" y2="494.5" stroke="#ffffff" stroke-opacity="0.5" stroke-width="0.8"/>
<line x1="1744.76" y1="258.1" x2="1744.76" y2="494.5" stroke="#ffffff" stroke-opacity="0.5" stroke-width="0.8"/>
<line x1="1751.09" y1="258.1" x2="1751.09" y2="494.5" stroke="#ffffff" stroke-opacity="0.5" stroke-width="0.8"/>
<line x1="1757.42" y1="257.3" x2="1757.42" y2="494.5" stroke="#ffffff" stroke-opacity="0.5" stroke-width="0.8"/>
<line x1="1763.75" y1="256.6" x2="1763.75" y2="494.5" stroke="#ffffff" stroke-opacity="0.5" stroke-width="0.8"/>
<line x1="1770.08" y1="255.7" x2="1770.08" y2="494.5" stroke="#ffffff" stroke-opacity="0.5" stroke-width="0.8"/>
<line x1="1776.41" y1="253.9" x2="1776.41" y2="494.5" stroke="#ffffff" stroke-opacity="0.5" stroke-width="0.8"/>
<line x1="1782.74" y1="252.0" x2="1782.74" y2="494.5" stroke="#ffffff" stroke-opacity="0.5" stroke-width="0.8"/>
<line x1="1789.07" y1="249.6" x2="1789.07" y2="494.5" stroke="#ffffff" stroke-opacity="0.5" stroke-width="0.8"/>
<line x1="1795.40" y1="246.4" x2="1795.40" y2="494.5" stroke="#ffffff" stroke-opacity="0.5" stroke-width="0.8"/>
<line x1="1801.73" y1="241.7" x2="1801.73" y2="494.5" stroke="#ffffff" stroke-opacity="0.5" stroke-width="0.8"/>
<line x1="1808.06" y1="236.7" x2="1808.06" y2="494.5" stroke="#ffffff" stroke-opacity="0.5" stroke-width="0.8"/>
<line x1="1814.39" y1="231.5" x2="1814.39" y2="494.5" stroke="#ffffff" stroke-opacity="0.5" stroke-width="0.8"/>
<line x1="1820.72" y1="225.9" x2="1820.72" y2="494.5" stroke="#ffffff" stroke-opacity="0.5" stroke-width="0.8"/>
<line x1="1827.05" y1="221.0" x2="1827.05" y2="494.5" stroke="#ffffff" stroke-opacity="0.5" stroke-width="0.8"/>
<line x1="1833.38" y1="219.1" x2="1833.38" y2="494.5" stroke="#ffffff" stroke-opacity="0.5" stroke-width="0.8"/>
<line x1="1839.71" y1="216.8" x2="1839.71" y2="494.5" stroke="#ffffff" stroke-opacity="0.5" stroke-width="0.8"/>
<line x1="1846.04" y1="217.7" x2="1846.04" y2="494.5" stroke="#ffffff" stroke-opacity="0.5" stroke-width="0.8"/>
<line x1="1852.37" y1="221.6" x2="1852.37" y2="494.5" stroke="#ffffff" stroke-opacity="0.5" stroke-width="0.8"/>
<line x1="1858.70" y1="225.6" x2="1858.70" y2="494.5" stroke="#ffffff" stroke-opacity="0.5" stroke-width="0.8"/>
<line x1="1865.03" y1="231.7" x2="1865.03" y2="494.5" stroke="#ffffff" stroke-opacity="0.5" stroke-width="0.8"/>
<line x1="1871.36" y1="236.7" x2="1871.36" y2="494.5" stroke="#ffffff" stroke-opacity="0.5" stroke-width="0.8"/>
<line x1="1877.69" y1="241.7" x2="1877.69" y2="494.5" stroke="#ffffff" stroke-opacity="0.5" stroke-width="0.8"/>
<line x1="1884.02" y1="244.8" x2="1884.02" y2="494.5" stroke="#ffffff" stroke-opacity="0.5" stroke-width="0.8"/>
<line x1="1890.35" y1="247.7" x2="1890.35" y2="494.5" stroke="#ffffff" stroke-opacity="0.5" stroke-width="0.8"/>
<line x1="1896.68" y1="249.8" x2="1896.68" y2="494.5" stroke="#ffffff" stroke-opacity="0.5" stroke-width="0.8"/>
<line x1="1903.01" y1="250.9" x2="1903.01" y2="494.5" stroke="#ffffff" stroke-opacity="0.5" stroke-width="0.8"/>
<line x1="1909.34" y1="252.8" x2="1909.34" y2="494.5" stroke="#ffffff" stroke-opacity="0.5" stroke-width="0.8"/>
<line x1="1915.67" y1="254.1" x2="1915.67" y2="494.5" stroke="#ffffff" stroke-opacity="0.5" stroke-width="0.8"/>
<line x1="1922.00" y1="255.5" x2="1922.00" y2="494.5" stroke="#ffffff" stroke-opacity="0.5" stroke-width="0.8"/>
<line x1="1928.33" y1="256.5" x2="1928.33" y2="494.5" stroke="#ffffff" stroke-opacity="0.5" stroke-width="0.8"/>
<line x1="1934.66" y1="257.3" x2="1934.66" y2="494.5" stroke="#ffffff" stroke-opacity="0.5" stroke-width="0.8"/>
<line x1="1940.99" y1="257.8" x2="1940.99" y2="494.5" stroke="#ffffff" stroke-opacity="0.5" stroke-width="0.8"/>
<line x1="1947.32" y1="258.1" x2="1947.32" y2="494.5" stroke="#ffffff" stroke-opacity="0.5" stroke-width="0.8"/>
<line x1="1953.65" y1="258.1" x2="1953.65" y2="494.5" stroke="#ffffff" stroke-opacity="0.5" stroke-width="0.8"/>
<line x1="1959.98" y1="257.3" x2="1959.98" y2="494.5" stroke="#ffffff" stroke-opacity="0.5" stroke-width="0.8"/>
<line x1="1966.31" y1="256.6" x2="1966.31" y2="494.5" stroke="#ffffff" stroke-opacity="0.5" stroke-width="0.8"/>
<line x1="1972.64" y1="255.7" x2="1972.64" y2="494.5" stroke="#ffffff" stroke-opacity="0.5" stroke-width="0.8"/>
<line x1="1978.97" y1="253.9" x2="1978.97" y2="494.5" stroke="#ffffff" stroke-opacity="0.5" stroke-width="0.8"/>
<line x1="1985.30" y1="252.0" x2="1985.30" y2="494.5" stroke="#ffffff" stroke-opacity="0.5" stroke-width="0.8"/>
<line x1="1991.63" y1="249.6" x2="1991.63" y2="494.5" stroke="#ffffff" stroke-opacity="0.5" stroke-width="0.8"/>
<line x1="1997.96" y1="246.4" x2="1997.96" y2="494.5" stroke="#ffffff" stroke-opacity="0.5" stroke-width="0.8"/>
<line x1="2004.29" y1="241.7" x2="2004.29" y2="494.5" stroke="#ffffff" stroke-opacity="0.5" stroke-width="0.8"/>
<line x1="2010.62" y1="236.7" x2="2010.62" y2="494.5" stroke="#ffffff" stroke-opacity="0.5" stroke-width="0.8"/>
<line x1="2016.95" y1="231.5" x2="2016.95" y2="494.5" stroke="#ffffff" stroke-opacity="0.5" stroke-width="0.8"/>
<line x1="2023.28" y1="225.9" x2="2023.28" y2="494.5" stroke="#ffffff" stroke-opacity="0.5" stroke-width="0.8"/>
<line x1="2029.61" y1="221.0" x2="2029.61" y2="494.5" stroke="#ffffff" stroke-opacity="0.5" stroke-width="0.8"/>
<line x1="2035.94" y1="219.1" x2="2035.94" y2="494.5" stroke="#ffffff" stroke-opacity="0.5" stroke-width="0.8"/>
<line x1="2042.27" y1="216.8" x2="2042.27" y2="494.5" stroke="#ffffff" stroke-opacity="0.5" stroke-width="0.8"/>
<line x1="2048.60" y1="217.7" x2="2048.60" y2="494.5" stroke="#ffffff" stroke-opacity="0.5" stroke-width="0.8"/>
<line x1="2054.93" y1="221.6" x2="2054.93" y2="494.5" stroke="#ffffff" stroke-opacity="0.5" stroke-width="0.8"/>
<line x1="2061.26" y1="225.6" x2="2061.26" y2="494.5" stroke="#ffffff" stroke-opacity="0.5" stroke-width="0.8"/>
<line x1="2067.59" y1="231.7" x2="2067.59" y2="494.5" stroke="#ffffff" stroke-opacity="0.5" stroke-width="0.8"/>
<line x1="2073.92" y1="236.7" x2="2073.92" y2="494.5" stroke="#ffffff" stroke-opacity="0.5" stroke-width="0.8"/>
<line x1="2080.25" y1="241.7" x2="2080.25" y2="494.5" stroke="#ffffff" stroke-opacity="0.5" stroke-width="0.8"/>
<line x1="2086.58" y1="244.8" x2="2086.58" y2="494.5" stroke="#ffffff" stroke-opacity="0.5" stroke-width="0.8"/>
<line x1="2092.91" y1="247.7" x2="2092.91" y2="494.5" stroke="#ffffff" stroke-opacity="0.5" stroke-width="0.8"/>
<line x1="2099.24" y1="249.8" x2="2099.24" y2="494.5" stroke="#ffffff" stroke-opacity="0.5" stroke-width="0.8"/>
<line x1="1700.45" y1="495.00" x2="2107.70" y2="495.00" stroke="#231f20" stroke-width="2.4" />
<line x1="2106.50" y1="495.00" x2="2106.50" y2="489.00" stroke="#231f20" stroke-width="2.208" />
<polyline points="194.7,721.4 196.1,739.8 197.3,756.7 198.8,773.6 199.8,790.0 201.0,806.6 202.3,823.1 205.8,830.3 209.8,837.7 216.2,843.2 223.2,846.7 231.2,849.2 239.6,851.2 248.1,852.4 256.0,853.3 264.5,854.0 280.0,855.0 300.0,856.0 330.0,857.0 380.0,858.0" fill="none" stroke="#70bf5e" stroke-width="3.5" stroke-linejoin="round" stroke-dasharray="3.5 4.8" />
<polyline points="194.7,997.0 196.1,978.6 197.3,961.7 198.8,944.8 199.8,928.4 201.0,911.8 202.3,895.3 205.8,888.1 209.8,880.7 216.2,875.2 223.2,871.7 231.2,869.2 239.6,867.2 248.1,866.0 256.0,865.1 264.5,864.4 280.0,863.4 300.0,862.4 330.0,861.4 380.0,860.4" fill="none" stroke="#70bf5e" stroke-width="3.5" stroke-linejoin="round" stroke-dasharray="3.5 4.8" />
<line x1="194.70" y1="859.20" x2="583.90" y2="859.20" stroke="#70bf5e" stroke-width="8.5" />
<line x1="178.80" y1="701.40" x2="178.80" y2="1017.00" stroke="#231f20" stroke-width="2.4" />
<line x1="178.80" y1="1015.80" x2="576.60" y2="1015.80" stroke="#231f20" stroke-width="2.4" />
<line x1="277.95" y1="1015.80" x2="277.95" y2="1010.30" stroke="#231f20" stroke-width="2.208" />
<line x1="377.10" y1="1015.80" x2="377.10" y2="1010.30" stroke="#231f20" stroke-width="2.208" />
<line x1="476.25" y1="1015.80" x2="476.25" y2="1010.30" stroke="#231f20" stroke-width="2.208" />
<line x1="575.40" y1="1015.80" x2="575.40" y2="1010.30" stroke="#231f20" stroke-width="2.208" />
<line x1="178.80" y1="702.60" x2="183.80" y2="702.60" stroke="#231f20" stroke-width="2.208" />
<line x1="178.80" y1="741.75" x2="183.80" y2="741.75" stroke="#231f20" stroke-width="2.208" />
<line x1="178.80" y1="780.90" x2="183.80" y2="780.90" stroke="#231f20" stroke-width="2.208" />
<line x1="178.80" y1="820.05" x2="183.80" y2="820.05" stroke="#231f20" stroke-width="2.208" />
<line x1="178.80" y1="859.20" x2="183.80" y2="859.20" stroke="#231f20" stroke-width="2.208" />
<line x1="178.80" y1="898.35" x2="183.80" y2="898.35" stroke="#231f20" stroke-width="2.208" />
<line x1="178.80" y1="937.50" x2="183.80" y2="937.50" stroke="#231f20" stroke-width="2.208" />
<line x1="178.80" y1="976.65" x2="183.80" y2="976.65" stroke="#231f20" stroke-width="2.208" />
<line x1="178.80" y1="1015.80" x2="183.80" y2="1015.80" stroke="#231f20" stroke-width="2.208" />
<rect x="505.00" y="741.65" width="11.20" height="2.90" fill="#231f20" />
<path d="M517.78,738.48 C517.88,737.95 518.04,736.15 518.34,735.28 C518.65,734.40 519.14,733.68 519.63,733.23 C520.12,732.79 520.69,732.56 521.28,732.60 C521.88,732.64 522.63,732.78 523.21,733.48 C523.79,734.19 524.30,735.42 524.75,736.82 C525.20,738.23 525.59,740.26 525.90,741.93 C526.20,743.60 526.47,746.02 526.59,746.84 L531.66,732.99 L534.60,732.85 L527.30,749.08 C527.30,749.38 527.35,749.93 527.33,750.87 C527.31,751.81 527.31,753.47 527.18,754.71 C527.05,755.95 526.86,757.39 526.54,758.30 C526.22,759.20 525.68,759.91 525.25,760.12 C524.83,760.33 524.31,759.96 523.97,759.57 C523.63,759.17 523.25,758.58 523.21,757.77 C523.17,756.96 523.42,755.82 523.72,754.71 C524.01,753.60 524.66,752.02 525.00,751.12 C525.34,750.22 525.63,749.62 525.76,749.33 C525.68,748.73 525.47,747.13 525.25,745.77 C525.04,744.40 524.79,742.56 524.49,741.16 C524.20,739.75 523.85,738.32 523.46,737.32 C523.08,736.32 522.61,735.61 522.18,735.17 C521.75,734.72 521.32,734.60 520.89,734.64 C520.47,734.68 519.99,734.97 519.63,735.42 C519.27,735.86 518.93,736.79 518.73,737.32 C518.54,737.85 518.51,738.40 518.46,738.62 Z" fill="#231f20"/>
<polyline points="188.4,1113.1 189.9,1139.7 191.4,1156.6 193.1,1181.5 194.9,1198.4 195.9,1214.3 199.8,1222.3 203.3,1229.2 209.8,1234.7 216.7,1238.5 224.7,1241.2 233.2,1242.9 241.6,1244.0 250.1,1244.9 258.0,1245.6 270.0,1246.4 290.0,1247.4 320.0,1248.5 370.0,1249.6" fill="none" stroke="#ec2027" stroke-width="3.5" stroke-linejoin="round" stroke-dasharray="3.5 4.8" />
<polyline points="188.4,1389.7 189.9,1363.1 191.4,1346.2 193.1,1321.3 194.9,1304.4 195.9,1288.5 199.8,1280.5 203.3,1273.6 209.8,1268.1 216.7,1264.3 224.7,1261.6 233.2,1259.9 241.6,1258.8 250.1,1257.9 258.0,1257.2 270.0,1256.4 290.0,1255.4 320.0,1254.3 370.0,1253.2" fill="none" stroke="#ec2027" stroke-width="3.5" stroke-linejoin="round" stroke-dasharray="3.5 4.8" />
<line x1="188.10" y1="1251.40" x2="579.80" y2="1251.40" stroke="#ec2027" stroke-width="8.5" />
<line x1="178.80" y1="1093.60" x2="178.80" y2="1409.20" stroke="#231f20" stroke-width="2.4" />
<line x1="178.80" y1="1408.00" x2="576.60" y2="1408.00" stroke="#231f20" stroke-width="2.4" />
<line x1="277.95" y1="1408.00" x2="277.95" y2="1402.50" stroke="#231f20" stroke-width="2.208" />
<line x1="377.10" y1="1408.00" x2="377.10" y2="1402.50" stroke="#231f20" stroke-width="2.208" />
<line x1="476.25" y1="1408.00" x2="476.25" y2="1402.50" stroke="#231f20" stroke-width="2.208" />
<line x1="575.40" y1="1408.00" x2="575.40" y2="1402.50" stroke="#231f20" stroke-width="2.208" />
<line x1="178.80" y1="1094.80" x2="183.80" y2="1094.80" stroke="#231f20" stroke-width="2.208" />
<line x1="178.80" y1="1133.95" x2="183.80" y2="1133.95" stroke="#231f20" stroke-width="2.208" />
<line x1="178.80" y1="1173.10" x2="183.80" y2="1173.10" stroke="#231f20" stroke-width="2.208" />
<line x1="178.80" y1="1212.25" x2="183.80" y2="1212.25" stroke="#231f20" stroke-width="2.208" />
<line x1="178.80" y1="1251.40" x2="183.80" y2="1251.40" stroke="#231f20" stroke-width="2.208" />
<line x1="178.80" y1="1290.55" x2="183.80" y2="1290.55" stroke="#231f20" stroke-width="2.208" />
<line x1="178.80" y1="1329.70" x2="183.80" y2="1329.70" stroke="#231f20" stroke-width="2.208" />
<line x1="178.80" y1="1368.85" x2="183.80" y2="1368.85" stroke="#231f20" stroke-width="2.208" />
<line x1="178.80" y1="1408.00" x2="183.80" y2="1408.00" stroke="#231f20" stroke-width="2.208" />
<rect x="502.80" y="1133.85" width="11.20" height="2.90" fill="#231f20" />
<path d="M515.58,1130.68 C515.68,1130.15 515.84,1128.35 516.14,1127.48 C516.45,1126.60 516.94,1125.88 517.43,1125.43 C517.92,1124.99 518.49,1124.76 519.08,1124.80 C519.68,1124.84 520.43,1124.98 521.01,1125.68 C521.59,1126.39 522.10,1127.62 522.55,1129.02 C523.00,1130.43 523.39,1132.46 523.70,1134.13 C524.00,1135.80 524.27,1138.22 524.39,1139.04 L529.46,1125.19 L532.40,1125.05 L525.10,1141.28 C525.10,1141.58 525.15,1142.13 525.13,1143.07 C525.11,1144.01 525.11,1145.67 524.98,1146.91 C524.85,1148.14 524.66,1149.59 524.34,1150.50 C524.02,1151.40 523.48,1152.11 523.05,1152.32 C522.63,1152.53 522.11,1152.16 521.77,1151.77 C521.43,1151.37 521.05,1150.78 521.01,1149.97 C520.97,1149.16 521.22,1148.02 521.52,1146.91 C521.81,1145.80 522.46,1144.22 522.80,1143.32 C523.14,1142.42 523.43,1141.82 523.56,1141.53 C523.48,1140.93 523.27,1139.33 523.05,1137.97 C522.84,1136.60 522.59,1134.76 522.29,1133.36 C522.00,1131.95 521.65,1130.52 521.26,1129.52 C520.88,1128.52 520.41,1127.81 519.98,1127.37 C519.55,1126.92 519.12,1126.80 518.69,1126.84 C518.27,1126.88 517.79,1127.17 517.43,1127.62 C517.07,1128.06 516.73,1128.99 516.53,1129.52 C516.34,1130.05 516.31,1130.60 516.26,1130.82 Z" fill="#231f20"/>
<polyline points="189.9,1505.4 191.6,1530.0 193.5,1556.0 195.4,1582.0 197.3,1607.3 200.8,1614.3 204.3,1621.2 210.8,1626.7 217.7,1630.7 225.7,1633.7 234.1,1635.3 242.6,1636.5 250.6,1637.4 259.0,1638.1 272.0,1639.0 292.0,1640.0 322.0,1641.2 372.0,1642.3" fill="none" stroke="#3a53a4" stroke-width="3.5" stroke-linejoin="round" stroke-dasharray="3.5 4.8" />
<polyline points="189.9,1782.2 191.6,1757.6 193.5,1731.6 195.4,1705.6 197.3,1680.3 200.8,1673.3 204.3,1666.4 210.8,1660.9 217.7,1656.9 225.7,1653.9 234.1,1652.3 242.6,1651.1 250.6,1650.2 259.0,1649.5 272.0,1648.6 292.0,1647.6 322.0,1646.4 372.0,1645.3" fill="none" stroke="#3a53a4" stroke-width="3.5" stroke-linejoin="round" stroke-dasharray="3.5 4.8" />
<line x1="189.40" y1="1643.80" x2="581.40" y2="1643.80" stroke="#3a53a4" stroke-width="8.5" />
<line x1="178.80" y1="1486.00" x2="178.80" y2="1801.60" stroke="#231f20" stroke-width="2.4" />
<line x1="178.80" y1="1800.40" x2="576.60" y2="1800.40" stroke="#231f20" stroke-width="2.4" />
<line x1="277.95" y1="1800.40" x2="277.95" y2="1794.90" stroke="#231f20" stroke-width="2.208" />
<line x1="377.10" y1="1800.40" x2="377.10" y2="1794.90" stroke="#231f20" stroke-width="2.208" />
<line x1="476.25" y1="1800.40" x2="476.25" y2="1794.90" stroke="#231f20" stroke-width="2.208" />
<line x1="575.40" y1="1800.40" x2="575.40" y2="1794.90" stroke="#231f20" stroke-width="2.208" />
<line x1="178.80" y1="1487.20" x2="183.80" y2="1487.20" stroke="#231f20" stroke-width="2.208" />
<line x1="178.80" y1="1526.35" x2="183.80" y2="1526.35" stroke="#231f20" stroke-width="2.208" />
<line x1="178.80" y1="1565.50" x2="183.80" y2="1565.50" stroke="#231f20" stroke-width="2.208" />
<line x1="178.80" y1="1604.65" x2="183.80" y2="1604.65" stroke="#231f20" stroke-width="2.208" />
<line x1="178.80" y1="1643.80" x2="183.80" y2="1643.80" stroke="#231f20" stroke-width="2.208" />
<line x1="178.80" y1="1682.95" x2="183.80" y2="1682.95" stroke="#231f20" stroke-width="2.208" />
<line x1="178.80" y1="1722.10" x2="183.80" y2="1722.10" stroke="#231f20" stroke-width="2.208" />
<line x1="178.80" y1="1761.25" x2="183.80" y2="1761.25" stroke="#231f20" stroke-width="2.208" />
<line x1="178.80" y1="1800.40" x2="183.80" y2="1800.40" stroke="#231f20" stroke-width="2.208" />
<rect x="506.00" y="1526.25" width="11.20" height="2.90" fill="#231f20" />
<path d="M518.78,1523.08 C518.88,1522.55 519.04,1520.75 519.34,1519.88 C519.65,1519.00 520.14,1518.28 520.63,1517.83 C521.12,1517.39 521.69,1517.16 522.28,1517.20 C522.88,1517.24 523.63,1517.38 524.21,1518.08 C524.79,1518.79 525.30,1520.02 525.75,1521.42 C526.20,1522.83 526.59,1524.86 526.90,1526.53 C527.20,1528.20 527.47,1530.62 527.59,1531.44 L532.66,1517.59 L535.60,1517.45 L528.30,1533.68 C528.30,1533.98 528.35,1534.53 528.33,1535.47 C528.31,1536.41 528.31,1538.07 528.18,1539.31 C528.05,1540.55 527.86,1541.99 527.54,1542.90 C527.22,1543.80 526.68,1544.51 526.25,1544.72 C525.83,1544.93 525.31,1544.56 524.97,1544.17 C524.63,1543.77 524.25,1543.18 524.21,1542.37 C524.17,1541.56 524.42,1540.42 524.72,1539.31 C525.01,1538.20 525.66,1536.62 526.00,1535.72 C526.34,1534.82 526.63,1534.22 526.76,1533.93 C526.68,1533.33 526.47,1531.73 526.25,1530.37 C526.04,1529.00 525.79,1527.16 525.49,1525.76 C525.20,1524.35 524.85,1522.92 524.46,1521.92 C524.08,1520.92 523.61,1520.21 523.18,1519.77 C522.75,1519.32 522.32,1519.20 521.89,1519.24 C521.47,1519.28 520.99,1519.57 520.63,1520.02 C520.27,1520.46 519.93,1521.39 519.73,1521.92 C519.54,1522.45 519.51,1523.00 519.46,1523.22 Z" fill="#231f20"/>
<polyline points="792.4,859.5 804.4,859.3 820.4,857.9 830.4,858.2 847.4,859.4 862.4,859.2 1177.4,859.2" fill="none" stroke="#70bf5e" stroke-width="7.8" stroke-linejoin="round"  />
<line x1="782.50" y1="701.40" x2="782.50" y2="1017.00" stroke="#231f20" stroke-width="2.4" />
<line x1="782.50" y1="1015.80" x2="1178.30" y2="1015.80" stroke="#231f20" stroke-width="2.4" />
<line x1="792.37" y1="1015.80" x2="792.37" y2="1011.20" stroke="#231f20" stroke-width="2.04" />
<line x1="831.83" y1="1015.80" x2="831.83" y2="1011.20" stroke="#231f20" stroke-width="2.04" />
<line x1="881.15" y1="1015.80" x2="881.15" y2="1011.20" stroke="#231f20" stroke-width="2.04" />
<line x1="930.48" y1="1015.80" x2="930.48" y2="1011.20" stroke="#231f20" stroke-width="2.04" />
<line x1="979.80" y1="1015.80" x2="979.80" y2="1011.20" stroke="#231f20" stroke-width="2.04" />
<line x1="1029.12" y1="1015.80" x2="1029.12" y2="1011.20" stroke="#231f20" stroke-width="2.04" />
<line x1="1078.45" y1="1015.80" x2="1078.45" y2="1011.20" stroke="#231f20" stroke-width="2.04" />
<line x1="1127.78" y1="1015.80" x2="1127.78" y2="1011.20" stroke="#231f20" stroke-width="2.04" />
<line x1="1177.10" y1="1015.80" x2="1177.10" y2="1011.20" stroke="#231f20" stroke-width="2.04" />
<line x1="782.50" y1="702.60" x2="787.50" y2="702.60" stroke="#231f20" stroke-width="2.208" />
<line x1="782.50" y1="733.92" x2="787.50" y2="733.92" stroke="#231f20" stroke-width="2.208" />
<line x1="782.50" y1="765.24" x2="787.50" y2="765.24" stroke="#231f20" stroke-width="2.208" />
<line x1="782.50" y1="796.56" x2="787.50" y2="796.56" stroke="#231f20" stroke-width="2.208" />
<line x1="782.50" y1="827.88" x2="787.50" y2="827.88" stroke="#231f20" stroke-width="2.208" />
<line x1="782.50" y1="859.20" x2="787.50" y2="859.20" stroke="#231f20" stroke-width="2.208" />
<line x1="782.50" y1="890.52" x2="787.50" y2="890.52" stroke="#231f20" stroke-width="2.208" />
<line x1="782.50" y1="921.84" x2="787.50" y2="921.84" stroke="#231f20" stroke-width="2.208" />
<line x1="782.50" y1="953.16" x2="787.50" y2="953.16" stroke="#231f20" stroke-width="2.208" />
<line x1="782.50" y1="984.48" x2="787.50" y2="984.48" stroke="#231f20" stroke-width="2.208" />
<line x1="782.50" y1="1015.80" x2="787.50" y2="1015.80" stroke="#231f20" stroke-width="2.208" />
<rect x="1088.20" y="741.65" width="11.20" height="2.90" fill="#231f20" />
<path d="M1100.98,738.48 C1101.08,737.95 1101.24,736.15 1101.54,735.28 C1101.85,734.40 1102.34,733.68 1102.83,733.23 C1103.32,732.79 1103.89,732.56 1104.48,732.60 C1105.08,732.64 1105.83,732.78 1106.41,733.48 C1106.99,734.19 1107.50,735.42 1107.95,736.82 C1108.40,738.23 1108.79,740.26 1109.10,741.93 C1109.40,743.60 1109.67,746.02 1109.79,746.84 L1114.86,732.99 L1117.80,732.85 L1110.50,749.08 C1110.50,749.38 1110.55,749.93 1110.53,750.87 C1110.51,751.81 1110.51,753.47 1110.38,754.71 C1110.25,755.95 1110.06,757.39 1109.74,758.30 C1109.42,759.20 1108.88,759.91 1108.45,760.12 C1108.03,760.33 1107.51,759.96 1107.17,759.57 C1106.83,759.17 1106.45,758.58 1106.41,757.77 C1106.37,756.96 1106.62,755.82 1106.92,754.71 C1107.21,753.60 1107.86,752.02 1108.20,751.12 C1108.54,750.22 1108.83,749.62 1108.96,749.33 C1108.88,748.73 1108.67,747.13 1108.45,745.77 C1108.24,744.40 1107.99,742.56 1107.69,741.16 C1107.40,739.75 1107.05,738.32 1106.66,737.32 C1106.28,736.32 1105.81,735.61 1105.38,735.17 C1104.95,734.72 1104.52,734.60 1104.09,734.64 C1103.67,734.68 1103.19,734.97 1102.83,735.42 C1102.47,735.86 1102.13,736.79 1101.93,737.32 C1101.74,737.85 1101.71,738.40 1101.66,738.62 Z" fill="#231f20"/>
<line x1="789.16" y1="1251.40" x2="1158.70" y2="1251.40" stroke="#ec2027" stroke-width="7.8" />
<line x1="780.00" y1="1093.60" x2="780.00" y2="1409.20" stroke="#231f20" stroke-width="2.4" />
<line x1="780.00" y1="1408.00" x2="1159.60" y2="1408.00" stroke="#231f20" stroke-width="2.4" />
<line x1="789.46" y1="1408.00" x2="789.46" y2="1403.40" stroke="#231f20" stroke-width="2.04" />
<line x1="827.30" y1="1408.00" x2="827.30" y2="1403.40" stroke="#231f20" stroke-width="2.04" />
<line x1="874.60" y1="1408.00" x2="874.60" y2="1403.40" stroke="#231f20" stroke-width="2.04" />
<line x1="921.90" y1="1408.00" x2="921.90" y2="1403.40" stroke="#231f20" stroke-width="2.04" />
<line x1="969.20" y1="1408.00" x2="969.20" y2="1403.40" stroke="#231f20" stroke-width="2.04" />
<line x1="1016.50" y1="1408.00" x2="1016.50" y2="1403.40" stroke="#231f20" stroke-width="2.04" />
<line x1="1063.80" y1="1408.00" x2="1063.80" y2="1403.40" stroke="#231f20" stroke-width="2.04" />
<line x1="1111.10" y1="1408.00" x2="1111.10" y2="1403.40" stroke="#231f20" stroke-width="2.04" />
<line x1="1158.40" y1="1408.00" x2="1158.40" y2="1403.40" stroke="#231f20" stroke-width="2.04" />
<line x1="780.00" y1="1094.80" x2="785.00" y2="1094.80" stroke="#231f20" stroke-width="2.208" />
<line x1="780.00" y1="1126.12" x2="785.00" y2="1126.12" stroke="#231f20" stroke-width="2.208" />
<line x1="780.00" y1="1157.44" x2="785.00" y2="1157.44" stroke="#231f20" stroke-width="2.208" />
<line x1="780.00" y1="1188.76" x2="785.00" y2="1188.76" stroke="#231f20" stroke-width="2.208" />
<line x1="780.00" y1="1220.08" x2="785.00" y2="1220.08" stroke="#231f20" stroke-width="2.208" />
<line x1="780.00" y1="1251.40" x2="785.00" y2="1251.40" stroke="#231f20" stroke-width="2.208" />
<line x1="780.00" y1="1282.72" x2="785.00" y2="1282.72" stroke="#231f20" stroke-width="2.208" />
<line x1="780.00" y1="1314.04" x2="785.00" y2="1314.04" stroke="#231f20" stroke-width="2.208" />
<line x1="780.00" y1="1345.36" x2="785.00" y2="1345.36" stroke="#231f20" stroke-width="2.208" />
<line x1="780.00" y1="1376.68" x2="785.00" y2="1376.68" stroke="#231f20" stroke-width="2.208" />
<line x1="780.00" y1="1408.00" x2="785.00" y2="1408.00" stroke="#231f20" stroke-width="2.208" />
<rect x="1086.00" y="1133.85" width="11.20" height="2.90" fill="#231f20" />
<path d="M1098.78,1130.68 C1098.88,1130.15 1099.04,1128.35 1099.34,1127.48 C1099.65,1126.60 1100.14,1125.88 1100.63,1125.43 C1101.12,1124.99 1101.69,1124.76 1102.28,1124.80 C1102.88,1124.84 1103.63,1124.98 1104.21,1125.68 C1104.79,1126.39 1105.30,1127.62 1105.75,1129.02 C1106.20,1130.43 1106.59,1132.46 1106.90,1134.13 C1107.20,1135.80 1107.47,1138.22 1107.59,1139.04 L1112.66,1125.19 L1115.60,1125.05 L1108.30,1141.28 C1108.30,1141.58 1108.35,1142.13 1108.33,1143.07 C1108.31,1144.01 1108.31,1145.67 1108.18,1146.91 C1108.05,1148.14 1107.86,1149.59 1107.54,1150.50 C1107.22,1151.40 1106.68,1152.11 1106.25,1152.32 C1105.83,1152.53 1105.31,1152.16 1104.97,1151.77 C1104.63,1151.37 1104.25,1150.78 1104.21,1149.97 C1104.17,1149.16 1104.42,1148.02 1104.72,1146.91 C1105.01,1145.80 1105.66,1144.22 1106.00,1143.32 C1106.34,1142.42 1106.63,1141.82 1106.76,1141.53 C1106.68,1140.93 1106.47,1139.33 1106.25,1137.97 C1106.04,1136.60 1105.79,1134.76 1105.49,1133.36 C1105.20,1131.95 1104.85,1130.52 1104.46,1129.52 C1104.08,1128.52 1103.61,1127.81 1103.18,1127.37 C1102.75,1126.92 1102.32,1126.80 1101.89,1126.84 C1101.47,1126.88 1100.99,1127.17 1100.63,1127.62 C1100.27,1128.06 1099.93,1128.99 1099.73,1129.52 C1099.54,1130.05 1099.51,1130.60 1099.46,1130.82 Z" fill="#231f20"/>
<line x1="789.16" y1="1643.80" x2="1158.70" y2="1643.80" stroke="#3a53a4" stroke-width="7.8" />
<line x1="780.00" y1="1486.00" x2="780.00" y2="1801.60" stroke="#231f20" stroke-width="2.4" />
<line x1="780.00" y1="1800.40" x2="1159.60" y2="1800.40" stroke="#231f20" stroke-width="2.4" />
<line x1="789.46" y1="1800.40" x2="789.46" y2="1795.80" stroke="#231f20" stroke-width="2.04" />
<line x1="827.30" y1="1800.40" x2="827.30" y2="1795.80" stroke="#231f20" stroke-width="2.04" />
<line x1="874.60" y1="1800.40" x2="874.60" y2="1795.80" stroke="#231f20" stroke-width="2.04" />
<line x1="921.90" y1="1800.40" x2="921.90" y2="1795.80" stroke="#231f20" stroke-width="2.04" />
<line x1="969.20" y1="1800.40" x2="969.20" y2="1795.80" stroke="#231f20" stroke-width="2.04" />
<line x1="1016.50" y1="1800.40" x2="1016.50" y2="1795.80" stroke="#231f20" stroke-width="2.04" />
<line x1="1063.80" y1="1800.40" x2="1063.80" y2="1795.80" stroke="#231f20" stroke-width="2.04" />
<line x1="1111.10" y1="1800.40" x2="1111.10" y2="1795.80" stroke="#231f20" stroke-width="2.04" />
<line x1="1158.40" y1="1800.40" x2="1158.40" y2="1795.80" stroke="#231f20" stroke-width="2.04" />
<line x1="780.00" y1="1487.20" x2="785.00" y2="1487.20" stroke="#231f20" stroke-width="2.208" />
<line x1="780.00" y1="1518.52" x2="785.00" y2="1518.52" stroke="#231f20" stroke-width="2.208" />
<line x1="780.00" y1="1549.84" x2="785.00" y2="1549.84" stroke="#231f20" stroke-width="2.208" />
<line x1="780.00" y1="1581.16" x2="785.00" y2="1581.16" stroke="#231f20" stroke-width="2.208" />
<line x1="780.00" y1="1612.48" x2="785.00" y2="1612.48" stroke="#231f20" stroke-width="2.208" />
<line x1="780.00" y1="1643.80" x2="785.00" y2="1643.80" stroke="#231f20" stroke-width="2.208" />
<line x1="780.00" y1="1675.12" x2="785.00" y2="1675.12" stroke="#231f20" stroke-width="2.208" />
<line x1="780.00" y1="1706.44" x2="785.00" y2="1706.44" stroke="#231f20" stroke-width="2.208" />
<line x1="780.00" y1="1737.76" x2="785.00" y2="1737.76" stroke="#231f20" stroke-width="2.208" />
<line x1="780.00" y1="1769.08" x2="785.00" y2="1769.08" stroke="#231f20" stroke-width="2.208" />
<line x1="780.00" y1="1800.40" x2="785.00" y2="1800.40" stroke="#231f20" stroke-width="2.208" />
<rect x="1088.40" y="1526.25" width="11.20" height="2.90" fill="#231f20" />
<path d="M1101.18,1523.08 C1101.28,1522.55 1101.44,1520.75 1101.74,1519.88 C1102.05,1519.00 1102.54,1518.28 1103.03,1517.83 C1103.52,1517.39 1104.09,1517.16 1104.68,1517.20 C1105.28,1517.24 1106.03,1517.38 1106.61,1518.08 C1107.19,1518.79 1107.70,1520.02 1108.15,1521.42 C1108.60,1522.83 1108.99,1524.86 1109.30,1526.53 C1109.60,1528.20 1109.87,1530.62 1109.99,1531.44 L1115.06,1517.59 L1118.00,1517.45 L1110.70,1533.68 C1110.70,1533.98 1110.75,1534.53 1110.73,1535.47 C1110.71,1536.41 1110.71,1538.07 1110.58,1539.31 C1110.45,1540.55 1110.26,1541.99 1109.94,1542.90 C1109.62,1543.80 1109.08,1544.51 1108.65,1544.72 C1108.23,1544.93 1107.71,1544.56 1107.37,1544.17 C1107.03,1543.77 1106.65,1543.18 1106.61,1542.37 C1106.57,1541.56 1106.82,1540.42 1107.12,1539.31 C1107.41,1538.20 1108.06,1536.62 1108.40,1535.72 C1108.74,1534.82 1109.03,1534.22 1109.16,1533.93 C1109.08,1533.33 1108.87,1531.73 1108.65,1530.37 C1108.44,1529.00 1108.19,1527.16 1107.89,1525.76 C1107.60,1524.35 1107.25,1522.92 1106.86,1521.92 C1106.48,1520.92 1106.01,1520.21 1105.58,1519.77 C1105.15,1519.32 1104.72,1519.20 1104.29,1519.24 C1103.87,1519.28 1103.39,1519.57 1103.03,1520.02 C1102.67,1520.46 1102.33,1521.39 1102.13,1521.92 C1101.94,1522.45 1101.91,1523.00 1101.86,1523.22 Z" fill="#231f20"/>
<line x1="1434.00" y1="902.80" x2="1434.00" y2="1617.00" stroke="#231f20" stroke-width="2.4" />
<line x1="1434.00" y1="904.00" x2="1443.60" y2="904.00" stroke="#231f20" stroke-width="2.4" />
<line x1="1434.00" y1="975.18" x2="1443.60" y2="975.18" stroke="#231f20" stroke-width="2.4" />
<line x1="1434.00" y1="1046.36" x2="1443.60" y2="1046.36" stroke="#231f20" stroke-width="2.4" />
<line x1="1434.00" y1="1117.54" x2="1443.60" y2="1117.54" stroke="#231f20" stroke-width="2.4" />
<line x1="1434.00" y1="1188.72" x2="1443.60" y2="1188.72" stroke="#231f20" stroke-width="2.4" />
<line x1="1434.00" y1="1259.90" x2="1443.60" y2="1259.90" stroke="#231f20" stroke-width="2.4" />
<line x1="1434.00" y1="1331.08" x2="1443.60" y2="1331.08" stroke="#231f20" stroke-width="2.4" />
<line x1="1434.00" y1="1402.26" x2="1443.60" y2="1402.26" stroke="#231f20" stroke-width="2.4" />
<line x1="1434.00" y1="1473.44" x2="1443.60" y2="1473.44" stroke="#231f20" stroke-width="2.4" />
<line x1="1434.00" y1="1544.62" x2="1443.60" y2="1544.62" stroke="#231f20" stroke-width="2.4" />
<line x1="1434.00" y1="1615.80" x2="1443.60" y2="1615.80" stroke="#231f20" stroke-width="2.4" />
<line x1="1576.10" y1="1144.50" x2="1576.10" y2="1295.70" stroke="#231f20" stroke-width="4.1" />
<line x1="1540.20" y1="1144.50" x2="1611.60" y2="1144.50" stroke="#231f20" stroke-width="4.1" />
<line x1="1540.20" y1="1295.70" x2="1611.60" y2="1295.70" stroke="#231f20" stroke-width="4.1" />
<rect x="1504.35" y="1226.35" width="143.10" height="54.60" fill="#70bf5e" stroke="#231f20" stroke-width="4.1"/>
<line x1="1504.35" y1="1260.70" x2="1647.45" y2="1260.70" stroke="#231f20" stroke-width="4.1" />
<line x1="1787.20" y1="1182.70" x2="1787.20" y2="1295.70" stroke="#231f20" stroke-width="4.1" />
<line x1="1751.50" y1="1182.70" x2="1822.80" y2="1182.70" stroke="#231f20" stroke-width="4.1" />
<line x1="1751.50" y1="1295.70" x2="1822.80" y2="1295.70" stroke="#231f20" stroke-width="4.1" />
<rect x="1715.65" y="1243.95" width="143.30" height="40.50" fill="#ec2027" stroke="#231f20" stroke-width="4.1"/>
<line x1="1715.65" y1="1269.50" x2="1858.95" y2="1269.50" stroke="#231f20" stroke-width="4.1" />
<line x1="1998.20" y1="1185.60" x2="1998.20" y2="1295.70" stroke="#231f20" stroke-width="4.1" />
<line x1="1962.40" y1="1185.60" x2="2034.00" y2="1185.60" stroke="#231f20" stroke-width="4.1" />
<line x1="1962.40" y1="1295.70" x2="2034.00" y2="1295.70" stroke="#231f20" stroke-width="4.1" />
<rect x="1926.95" y="1245.25" width="142.90" height="40.40" fill="#3a53a4" stroke="#231f20" stroke-width="4.1"/>
<line x1="1926.95" y1="1270.70" x2="2069.85" y2="1270.70" stroke="#231f20" stroke-width="4.1" />
<rect x="1562.03" y="1665.52" width="13.16" height="3.41" fill="#231f20" />
<path d="M1577.05,1661.80 C1577.16,1661.17 1577.34,1659.06 1577.70,1658.04 C1578.07,1657.01 1578.64,1656.16 1579.21,1655.64 C1579.79,1655.11 1580.46,1654.84 1581.16,1654.89 C1581.86,1654.94 1582.75,1655.10 1583.42,1655.93 C1584.10,1656.75 1584.70,1658.20 1585.23,1659.85 C1585.76,1661.51 1586.22,1663.89 1586.58,1665.85 C1586.94,1667.81 1587.26,1670.66 1587.40,1671.62 L1593.35,1655.34 L1596.81,1655.18 L1588.23,1674.25 C1588.24,1674.60 1588.29,1675.26 1588.27,1676.36 C1588.25,1677.46 1588.25,1679.41 1588.09,1680.87 C1587.93,1682.32 1587.71,1684.02 1587.34,1685.08 C1586.96,1686.14 1586.33,1686.97 1585.83,1687.22 C1585.32,1687.47 1584.72,1687.03 1584.32,1686.57 C1583.92,1686.11 1583.47,1685.42 1583.42,1684.47 C1583.37,1683.51 1583.67,1682.17 1584.02,1680.87 C1584.37,1679.56 1585.13,1677.70 1585.53,1676.65 C1585.93,1675.60 1586.27,1674.89 1586.42,1674.54 C1586.32,1673.85 1586.07,1671.96 1585.83,1670.36 C1585.58,1668.76 1585.28,1666.60 1584.93,1664.94 C1584.58,1663.29 1584.17,1661.61 1583.72,1660.44 C1583.27,1659.26 1582.72,1658.43 1582.21,1657.91 C1581.71,1657.38 1581.20,1657.24 1580.70,1657.29 C1580.20,1657.34 1579.64,1657.67 1579.21,1658.20 C1578.79,1658.72 1578.39,1659.81 1578.16,1660.44 C1577.93,1661.06 1577.90,1661.71 1577.84,1661.96 Z" fill="#231f20"/>
<rect x="1771.63" y="1665.52" width="13.16" height="3.41" fill="#231f20" />
<path d="M1786.65,1661.80 C1786.76,1661.17 1786.94,1659.06 1787.30,1658.04 C1787.67,1657.01 1788.24,1656.16 1788.81,1655.64 C1789.39,1655.11 1790.06,1654.84 1790.76,1654.89 C1791.46,1654.94 1792.35,1655.10 1793.02,1655.93 C1793.70,1656.75 1794.30,1658.20 1794.83,1659.85 C1795.36,1661.51 1795.82,1663.89 1796.18,1665.85 C1796.54,1667.81 1796.86,1670.66 1797.00,1671.62 L1802.95,1655.34 L1806.41,1655.18 L1797.83,1674.25 C1797.84,1674.60 1797.89,1675.26 1797.87,1676.36 C1797.85,1677.46 1797.85,1679.41 1797.69,1680.87 C1797.53,1682.32 1797.31,1684.02 1796.94,1685.08 C1796.56,1686.14 1795.93,1686.97 1795.43,1687.22 C1794.92,1687.47 1794.32,1687.03 1793.92,1686.57 C1793.52,1686.11 1793.07,1685.42 1793.02,1684.47 C1792.97,1683.51 1793.27,1682.17 1793.62,1680.87 C1793.97,1679.56 1794.73,1677.70 1795.13,1676.65 C1795.53,1675.60 1795.87,1674.89 1796.02,1674.54 C1795.92,1673.85 1795.67,1671.96 1795.43,1670.36 C1795.18,1668.76 1794.88,1666.60 1794.53,1664.94 C1794.18,1663.29 1793.77,1661.61 1793.32,1660.44 C1792.87,1659.26 1792.32,1658.43 1791.81,1657.91 C1791.31,1657.38 1790.80,1657.24 1790.30,1657.29 C1789.80,1657.34 1789.24,1657.67 1788.81,1658.20 C1788.39,1658.72 1787.99,1659.81 1787.76,1660.44 C1787.53,1661.06 1787.50,1661.71 1787.44,1661.96 Z" fill="#231f20"/>
<rect x="1985.83" y="1665.52" width="13.16" height="3.41" fill="#231f20" />
<path d="M2000.85,1661.80 C2000.96,1661.17 2001.14,1659.06 2001.50,1658.04 C2001.87,1657.01 2002.44,1656.16 2003.01,1655.64 C2003.59,1655.11 2004.26,1654.84 2004.96,1654.89 C2005.66,1654.94 2006.55,1655.10 2007.22,1655.93 C2007.90,1656.75 2008.50,1658.20 2009.03,1659.85 C2009.56,1661.51 2010.02,1663.89 2010.38,1665.85 C2010.74,1667.81 2011.06,1670.66 2011.20,1671.62 L2017.15,1655.34 L2020.61,1655.18 L2012.03,1674.25 C2012.04,1674.60 2012.09,1675.26 2012.07,1676.36 C2012.05,1677.46 2012.05,1679.41 2011.89,1680.87 C2011.73,1682.32 2011.51,1684.02 2011.14,1685.08 C2010.76,1686.14 2010.13,1686.97 2009.63,1687.22 C2009.12,1687.47 2008.52,1687.03 2008.12,1686.57 C2007.72,1686.11 2007.27,1685.42 2007.22,1684.47 C2007.17,1683.51 2007.47,1682.17 2007.82,1680.87 C2008.17,1679.56 2008.93,1677.70 2009.33,1676.65 C2009.73,1675.60 2010.07,1674.89 2010.22,1674.54 C2010.12,1673.85 2009.87,1671.96 2009.63,1670.36 C2009.38,1668.76 2009.08,1666.60 2008.73,1664.94 C2008.38,1663.29 2007.97,1661.61 2007.52,1660.44 C2007.07,1659.26 2006.52,1658.43 2006.01,1657.91 C2005.51,1657.38 2005.00,1657.24 2004.50,1657.29 C2004.00,1657.34 2003.44,1657.67 2003.01,1658.20 C2002.59,1658.72 2002.19,1659.81 2001.96,1660.44 C2001.73,1661.06 2001.70,1661.71 2001.64,1661.96 Z" fill="#231f20"/>
</g>
<g style="filter:grayscale(1)">
<text class="ss" transform="translate(14.00 49.70)" font-size="59.50">A</text>
<text class="ss" transform="translate(13.60 670.80)" font-size="59.50">B</text>
<text class="ss" transform="translate(44.24 126.15)" font-size="24.50">0.38</text>
<text class="ss" transform="translate(44.24 183.75)" font-size="24.50">0.36</text>
<text class="ss" transform="translate(44.24 241.35)" font-size="24.50">0.34</text>
<text class="ss" transform="translate(44.24 298.95)" font-size="24.50">0.32</text>
<text class="ss" transform="translate(44.24 356.55)" font-size="24.50">0.30</text>
<text class="ss" transform="translate(44.24 414.15)" font-size="24.50">0.28</text>
<text class="ss" transform="translate(44.24 471.75)" font-size="24.50">0.26</text>
<text class="ss" transform="translate(92.00 521.90)" font-size="23.90">0</text>
<text class="ss" transform="translate(133.56 521.90)" font-size="23.90">90</text>
<text class="ss" transform="translate(177.31 521.90)" font-size="23.90">180</text>
<text class="ss" transform="translate(227.71 521.90)" font-size="23.90">270</text>
<text class="ss" transform="translate(278.61 521.90)" font-size="23.90">360</text>
<text class="ss" transform="translate(329.01 521.90)" font-size="23.90">450</text>
<text class="ss" transform="translate(379.41 521.90)" font-size="23.90">540</text>
<text class="ss" transform="translate(429.31 521.90)" font-size="23.90">630</text>
<text class="ss" transform="translate(479.71 521.90)" font-size="23.90">720</text>
<text class="ss" transform="translate(210.80 561.60)" font-size="28.30">Theta Phase (º)</text>
<text class="ss" transform="translate(27.80 301.60) rotate(-90)" font-size="32.50">R</text>
<text class="ss" transform="translate(300.10 82.70)" font-size="23.00">S</text>
<text class="ss" transform="translate(580.64 126.15)" font-size="24.00">0.34</text>
<text class="ss" transform="translate(580.64 183.75)" font-size="24.00">0.32</text>
<text class="ss" transform="translate(580.64 241.35)" font-size="24.00">0.30</text>
<text class="ss" transform="translate(580.64 298.95)" font-size="24.00">0.28</text>
<text class="ss" transform="translate(580.64 356.55)" font-size="24.00">0.26</text>
<text class="ss" transform="translate(580.64 414.15)" font-size="24.00">0.24</text>
<text class="ss" transform="translate(580.64 471.75)" font-size="24.00">0.22</text>
<text class="ss" transform="translate(631.00 521.90)" font-size="23.90">0</text>
<text class="ss" transform="translate(672.56 521.90)" font-size="23.90">90</text>
<text class="ss" transform="translate(716.31 521.90)" font-size="23.90">180</text>
<text class="ss" transform="translate(766.71 521.90)" font-size="23.90">270</text>
<text class="ss" transform="translate(817.61 521.90)" font-size="23.90">360</text>
<text class="ss" transform="translate(868.01 521.90)" font-size="23.90">450</text>
<text class="ss" transform="translate(918.41 521.90)" font-size="23.90">540</text>
<text class="ss" transform="translate(968.31 521.90)" font-size="23.90">630</text>
<text class="ss" transform="translate(1018.71 521.90)" font-size="23.90">720</text>
<text class="ss" transform="translate(749.80 561.60)" font-size="28.30">Theta Phase (º)</text>
<text class="ss" transform="translate(566.80 301.60) rotate(-90)" font-size="32.50">R</text>
<text class="ss" transform="translate(839.10 82.70)" font-size="23.00">M</text>
<text class="ss" transform="translate(1123.94 126.15)" font-size="24.50">0.28</text>
<text class="ss" transform="translate(1123.94 183.75)" font-size="24.50">0.26</text>
<text class="ss" transform="translate(1123.94 241.35)" font-size="24.50">0.24</text>
<text class="ss" transform="translate(1123.94 298.95)" font-size="24.50">0.22</text>
<text class="ss" transform="translate(1123.94 356.55)" font-size="24.50">0.20</text>
<text class="ss" transform="translate(1123.94 414.15)" font-size="24.50">0.18</text>
<text class="ss" transform="translate(1123.94 471.75)" font-size="24.50">0.16</text>
<text class="ss" transform="translate(1171.00 521.90)" font-size="23.90">0</text>
<text class="ss" transform="translate(1212.56 521.90)" font-size="23.90">90</text>
<text class="ss" transform="translate(1256.31 521.90)" font-size="23.90">180</text>
<text class="ss" transform="translate(1306.71 521.90)" font-size="23.90">270</text>
<text class="ss" transform="translate(1357.61 521.90)" font-size="23.90">360</text>
<text class="ss" transform="translate(1408.01 521.90)" font-size="23.90">450</text>
<text class="ss" transform="translate(1458.41 521.90)" font-size="23.90">540</text>
<text class="ss" transform="translate(1508.31 521.90)" font-size="23.90">630</text>
<text class="ss" transform="translate(1558.71 521.90)" font-size="23.90">720</text>
<text class="ss" transform="translate(1289.80 561.60)" font-size="28.30">Theta Phase (º)</text>
<text class="ss" transform="translate(1106.80 301.60) rotate(-90)" font-size="32.50">R</text>
<text class="ss" transform="translate(1379.10 82.70)" font-size="23.00">F</text>
<text class="ss" transform="translate(1296.00 140.70)" font-size="28.60">Original</text>
<text class="ss" transform="translate(1295.00 176.90)" font-size="28.50">Random Permutation</text>
<text class="ss" transform="translate(1665.85 100.00)" font-size="24.00">50</text>
<text class="ss" transform="translate(1665.85 141.65)" font-size="24.00">45</text>
<text class="ss" transform="translate(1665.85 180.90)" font-size="24.00">40</text>
<text class="ss" transform="translate(1665.85 221.35)" font-size="24.00">35</text>
<text class="ss" transform="translate(1665.85 261.80)" font-size="24.00">30</text>
<text class="ss" transform="translate(1665.85 302.25)" font-size="24.00">25</text>
<text class="ss" transform="translate(1665.85 342.70)" font-size="24.00">20</text>
<text class="ss" transform="translate(1665.85 383.15)" font-size="24.00">15</text>
<text class="ss" transform="translate(1665.85 423.60)" font-size="24.00">10</text>
<text class="ss" transform="translate(1679.20 464.05)" font-size="24.00">5</text>
<text class="ss" transform="translate(1679.20 504.50)" font-size="24.00">0</text>
<text class="ss" transform="translate(1695.90 521.90)" font-size="23.90">0</text>
<text class="ss" transform="translate(1737.68 521.90)" font-size="23.90">90</text>
<text class="ss" transform="translate(1782.95 521.90)" font-size="23.90">180</text>
<text class="ss" transform="translate(1833.37 521.90)" font-size="23.90">270</text>
<text class="ss" transform="translate(1884.29 521.90)" font-size="23.90">360</text>
<text class="ss" transform="translate(1934.71 521.90)" font-size="23.90">450</text>
<text class="ss" transform="translate(1985.13 521.90)" font-size="23.90">540</text>
<text class="ss" transform="translate(2035.05 521.90)" font-size="23.90">630</text>
<text class="ss" transform="translate(2085.47 521.90)" font-size="23.90">720</text>
<text class="ss" transform="translate(1815.90 561.60)" font-size="28.40">Theta Phase (º)</text>
<text class="ss" transform="translate(1640.60 327.54) rotate(-90)" font-size="32.00">counts</text>
<text class="ss" transform="translate(136.47 711.05)" font-size="24.50">0.8</text>
<text class="ss" transform="translate(156.90 867.65)" font-size="24.50">0</text>
<text class="ss" transform="translate(120.16 1024.25)" font-size="24.50">−0.8</text>
<text class="ss" transform="translate(166.80 1046.10)" font-size="24.50">0</text>
<text class="ss" transform="translate(261.09 1046.10)" font-size="24.50">50</text>
<text class="ss" transform="translate(357.07 1046.10)" font-size="24.50">100</text>
<text class="ss" transform="translate(456.37 1046.10)" font-size="24.50">150</text>
<text class="ss" transform="translate(555.17 1046.10)" font-size="24.50">200</text>
<text class="ss" transform="translate(93.80 882.70) rotate(-90)" font-size="37.00">PPC</text>
<text class="ss" transform="translate(106.60 793.80) rotate(-90)" font-size="21.00">1:5</text>
<text class="sr" transform="translate(482.60 754.68) scale(1.0994 1)" font-size="41.75">θ</text>
<text class="ss" transform="translate(535.00 766.90)" font-size="24.00">S</text>
<text class="ss" transform="translate(136.47 1103.25)" font-size="24.50">0.8</text>
<text class="ss" transform="translate(156.90 1259.85)" font-size="24.50">0</text>
<text class="ss" transform="translate(120.16 1416.45)" font-size="24.50">−0.8</text>
<text class="ss" transform="translate(166.80 1438.30)" font-size="24.50">0</text>
<text class="ss" transform="translate(261.09 1438.30)" font-size="24.50">50</text>
<text class="ss" transform="translate(357.07 1438.30)" font-size="24.50">100</text>
<text class="ss" transform="translate(456.37 1438.30)" font-size="24.50">150</text>
<text class="ss" transform="translate(555.17 1438.30)" font-size="24.50">200</text>
<text class="ss" transform="translate(93.80 1274.90) rotate(-90)" font-size="37.00">PPC</text>
<text class="ss" transform="translate(106.60 1186.00) rotate(-90)" font-size="21.00">1:8</text>
<text class="sr" transform="translate(480.40 1146.88) scale(1.0994 1)" font-size="41.75">θ</text>
<text class="ss" transform="translate(533.80 1159.10)" font-size="24.00">M</text>
<text class="ss" transform="translate(136.47 1495.65)" font-size="24.50">0.8</text>
<text class="ss" transform="translate(156.90 1652.25)" font-size="24.50">0</text>
<text class="ss" transform="translate(120.16 1808.85)" font-size="24.50">−0.8</text>
<text class="ss" transform="translate(166.80 1830.70)" font-size="24.50">0</text>
<text class="ss" transform="translate(261.09 1830.70)" font-size="24.50">50</text>
<text class="ss" transform="translate(357.07 1830.70)" font-size="24.50">100</text>
<text class="ss" transform="translate(456.37 1830.70)" font-size="24.50">150</text>
<text class="ss" transform="translate(555.17 1830.70)" font-size="24.50">200</text>
<text class="ss" transform="translate(93.80 1669.80) rotate(-90)" font-size="37.00">PPC</text>
<text class="ss" transform="translate(106.60 1580.70) rotate(-90)" font-size="21.00">1:13</text>
<text class="sr" transform="translate(483.60 1539.28) scale(1.0994 1)" font-size="41.75">θ</text>
<text class="ss" transform="translate(537.00 1551.50)" font-size="24.00">F</text>
<text class="ss" transform="translate(232.70 1872.00)" font-size="33.50">Number of Samples</text>
<text class="ss" transform="translate(729.17 711.05)" font-size="24.50">0.1</text>
<text class="ss" transform="translate(750.20 867.65)" font-size="24.50">0</text>
<text class="ss" transform="translate(714.66 1024.25)" font-size="24.50">−0.1</text>
<text class="ss" transform="translate(773.76 1046.40) scale(0.7550 1)" font-size="24.00">1:1</text>
<text class="ss" transform="translate(814.46 1046.40) scale(0.7550 1)" font-size="24.00">1:5</text>
<text class="ss" transform="translate(857.62 1046.40) scale(0.7550 1)" font-size="24.00">1:10</text>
<text class="ss" transform="translate(906.72 1046.40) scale(0.7550 1)" font-size="24.00">1:15</text>
<text class="ss" transform="translate(955.12 1046.40) scale(0.7550 1)" font-size="24.00">1:20</text>
<text class="ss" transform="translate(1003.92 1046.40) scale(0.7550 1)" font-size="24.00">1:25</text>
<text class="ss" transform="translate(1052.12 1046.40) scale(0.7550 1)" font-size="24.00">1:30</text>
<text class="ss" transform="translate(1100.92 1046.40) scale(0.7550 1)" font-size="24.00">1:35</text>
<text class="ss" transform="translate(1149.12 1046.40) scale(0.7550 1)" font-size="24.00">1:40</text>
<text class="ss" transform="translate(717.85 895.80) rotate(-90)" font-size="37.00">PPC</text>
<text class="sr" transform="translate(1065.80 754.68) scale(1.0994 1)" font-size="41.75">θ</text>
<text class="ss" transform="translate(1118.20 766.90)" font-size="24.00">S</text>
<text class="ss" transform="translate(729.17 1103.25)" font-size="24.50">0.1</text>
<text class="ss" transform="translate(750.20 1259.85)" font-size="24.50">0</text>
<text class="ss" transform="translate(714.66 1416.45)" font-size="24.50">−0.1</text>
<text class="ss" transform="translate(773.76 1438.60) scale(0.7550 1)" font-size="24.00">1:1</text>
<text class="ss" transform="translate(814.46 1438.60) scale(0.7550 1)" font-size="24.00">1:5</text>
<text class="ss" transform="translate(857.62 1438.60) scale(0.7550 1)" font-size="24.00">1:10</text>
<text class="ss" transform="translate(906.72 1438.60) scale(0.7550 1)" font-size="24.00">1:15</text>
<text class="ss" transform="translate(955.12 1438.60) scale(0.7550 1)" font-size="24.00">1:20</text>
<text class="ss" transform="translate(1003.92 1438.60) scale(0.7550 1)" font-size="24.00">1:25</text>
<text class="ss" transform="translate(1052.12 1438.60) scale(0.7550 1)" font-size="24.00">1:30</text>
<text class="ss" transform="translate(1100.92 1438.60) scale(0.7550 1)" font-size="24.00">1:35</text>
<text class="ss" transform="translate(1149.12 1438.60) scale(0.7550 1)" font-size="24.00">1:40</text>
<text class="ss" transform="translate(717.85 1288.00) rotate(-90)" font-size="37.00">PPC</text>
<text class="sr" transform="translate(1063.60 1146.88) scale(1.0994 1)" font-size="41.75">θ</text>
<text class="ss" transform="translate(1117.00 1159.10)" font-size="24.00">M</text>
<text class="ss" transform="translate(729.17 1495.65)" font-size="24.50">0.1</text>
<text class="ss" transform="translate(750.20 1652.25)" font-size="24.50">0</text>
<text class="ss" transform="translate(714.66 1808.85)" font-size="24.50">−0.1</text>
<text class="ss" transform="translate(773.76 1831.00) scale(0.7550 1)" font-size="24.00">1:1</text>
<text class="ss" transform="translate(814.46 1831.00) scale(0.7550 1)" font-size="24.00">1:5</text>
<text class="ss" transform="translate(857.62 1831.00) scale(0.7550 1)" font-size="24.00">1:10</text>
<text class="ss" transform="translate(906.72 1831.00) scale(0.7550 1)" font-size="24.00">1:15</text>
<text class="ss" transform="translate(955.12 1831.00) scale(0.7550 1)" font-size="24.00">1:20</text>
<text class="ss" transform="translate(1003.92 1831.00) scale(0.7550 1)" font-size="24.00">1:25</text>
<text class="ss" transform="translate(1052.12 1831.00) scale(0.7550 1)" font-size="24.00">1:30</text>
<text class="ss" transform="translate(1100.92 1831.00) scale(0.7550 1)" font-size="24.00">1:35</text>
<text class="ss" transform="translate(1149.12 1831.00) scale(0.7550 1)" font-size="24.00">1:40</text>
<text class="ss" transform="translate(717.85 1683.40) rotate(-90)" font-size="37.00">PPC</text>
<text class="sr" transform="translate(1066.00 1539.28) scale(1.0994 1)" font-size="41.75">θ</text>
<text class="ss" transform="translate(1119.40 1551.50)" font-size="24.00">F</text>
<text class="ss" transform="translate(901.68 693.70) scale(0.8100 1)" font-size="31.00">1000 samples</text>
<text class="ss" transform="translate(940.30 1870.30)" font-size="34.50">n:m</text>
<text class="ss" transform="translate(1367.68 914.80)" font-size="28.50">0.01</text>
<text class="ss" transform="translate(1353.33 985.98)" font-size="28.50">0.008</text>
<text class="ss" transform="translate(1353.33 1057.16)" font-size="28.50">0.006</text>
<text class="ss" transform="translate(1352.33 1128.34)" font-size="28.50">0.004</text>
<text class="ss" transform="translate(1353.33 1199.52)" font-size="28.50">0.002</text>
<text class="ss" transform="translate(1408.80 1270.70)" font-size="28.50">0</text>
<text class="ss" transform="translate(1336.69 1341.88)" font-size="28.50">−0.002</text>
<text class="ss" transform="translate(1335.69 1413.06)" font-size="28.50">−0.004</text>
<text class="ss" transform="translate(1336.69 1484.24)" font-size="28.50">−0.006</text>
<text class="ss" transform="translate(1336.69 1555.42)" font-size="28.50">−0.008</text>
<text class="ss" transform="translate(1351.04 1626.60)" font-size="28.50">−0.01</text>
<text class="ss" transform="translate(1297.00 1478.90) rotate(-90)" font-size="36.90">Pairwise Phase Consistency</text>
<text class="ss" transform="translate(1690.50 880.60) scale(0.7680 1)" font-size="40.50">1000 samples</text>
<text class="sr" transform="translate(1534.80 1680.84) scale(1.0994 1)" font-size="49.06">θ</text>
<text class="ss" transform="translate(1597.45 1695.19)" font-size="28.20">S</text>
<text class="sr" transform="translate(1744.40 1680.84) scale(1.0994 1)" font-size="49.06">θ</text>
<text class="ss" transform="translate(1807.23 1695.19)" font-size="28.20">M</text>
<text class="sr" transform="translate(1958.60 1680.84) scale(1.0994 1)" font-size="49.06">θ</text>
<text class="ss" transform="translate(2021.43 1695.19)" font-size="28.20">F</text>
<text class="ss" transform="translate(1555.80 1738.00)" font-size="29.50">1:5</text>
<text class="ss" transform="translate(1767.10 1738.00)" font-size="29.50">1:8</text>
<text class="ss" transform="translate(1970.00 1738.00)" font-size="29.50">1:13</text>
</g>
</svg>
</body></html>
